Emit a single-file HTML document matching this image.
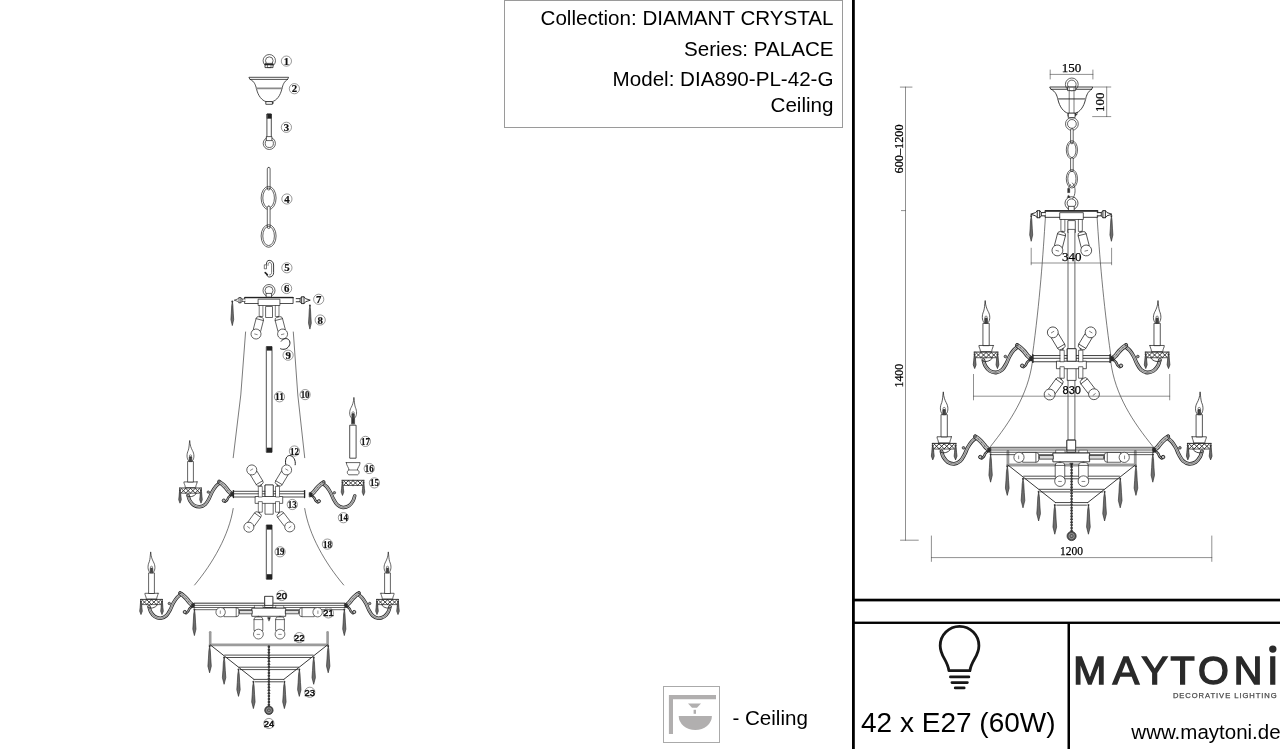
<!DOCTYPE html>
<html lang="en"><head><meta charset="utf-8"><title>DIA890-PL-42-G</title>
<style>
html,body{margin:0;padding:0;background:#fff;}
body{width:1280px;height:749px;position:relative;overflow:hidden;font-family:"Liberation Sans",sans-serif;color:#000;}
.abs{position:absolute;}
.info{left:504px;top:-0.5px;width:337px;height:126px;border:1px solid #9a9a9a;box-sizing:content-box;}
.info div{position:absolute;right:8.5px;white-space:nowrap;font-size:20.6px;line-height:24px;}
.vl{background:#000;}
.lbl{font-size:20.6px;line-height:24px;white-space:nowrap;}
svg{position:absolute;left:0;top:0;overflow:visible;}
circle,ellipse{stroke-linecap:butt;}
#w{position:absolute;left:0;top:0;width:1280px;height:749px;will-change:transform;}
</style></head><body><div id="w">
<div class="abs info">
<div style="top:5.3px">Collection: DIAMANT CRYSTAL</div>
<div style="top:36px">Series: PALACE</div>
<div style="top:66px">Model: DIA890-PL-42-G</div>
<div style="top:92.6px">Ceiling</div>
</div>
<svg width="1280" height="749" viewBox="0 0 1280 749"><g fill="#000">
<rect x="852" y="0" width="2.8" height="749"/>
<rect x="852" y="598.7" width="428" height="2.7"/>
<rect x="852" y="621.6" width="428" height="2.35"/>
<rect x="1067.5" y="622" width="2.5" height="127"/>
</g></svg>
<div class="abs" style="left:861px;top:707px;font-size:28px;line-height:32px;white-space:nowrap">42 x E27 (60W)</div>
<div class="abs" style="right:-0.6px;top:720px;font-size:20.5px;line-height:24px;white-space:nowrap;width:auto" id="url">www.maytoni.de</div>
<div class="abs lbl" style="left:732.4px;top:706px">- Ceiling</div>
<div class="abs" style="left:663px;top:686px;width:55px;height:55px;border:1px solid #aaa"></div>
<svg width="1280" height="749" viewBox="0 0 1280 749">
<g fill="#b1afaf">
<path d="M668.9 695.1H716v4.1H673v34.7h-4.1z"/>
<path d="M688 703.5h13l-4 4.3h-5z"/>
<rect x="693.6" y="709.8" width="2.4" height="4"/>
<path d="M678.7 716h33.2a16.6 14 0 0 1 -33.2 0z"/>
</g>
</svg>
<svg width="1280" height="749" viewBox="0 0 1280 749">
<g fill="none" stroke="#161616" stroke-width="2.8" stroke-linecap="round" stroke-linejoin="round">
<path d="M948.9 670.7 C947.5 659.5 940.2 656.5 940.2 645.75 a19.35 19.35 0 0 1 38.7 0 C978.9 656.5 971.6 659.5 969.9 670.7 z"/>
<path d="M950.4 676.9h18.5M951.9 682.6h15.5M955.2 687.9h9" stroke-width="2.7"/>
</g>
<g fill="#2a2a2a" font-family="'Liberation Sans',sans-serif">
<text x="1073.2 1112.7 1141.4 1170.4 1198.0 1233.8 1267.3" y="684.3" font-size="39.6" stroke="#2a2a2a" stroke-width="1.5" stroke-linejoin="miter">MAYTONI</text>
<circle cx="1272.8" cy="649.1" r="3.7"/>
<text x="1172.9" y="698.3" font-size="7.6" textLength="103.8" lengthAdjust="spacing" fill="#4a4a4a" stroke="#4a4a4a" stroke-width="0.25">DECORATIVE LIGHTING</text>
</g>
</svg>
<svg width="1280" height="749" viewBox="0 0 1280 749" fill="none" stroke="#222" stroke-width="0.7" stroke-linecap="round" stroke-linejoin="round">
<circle cx="269.3" cy="60.7" r="6.2"/><circle cx="269.3" cy="60.7" r="3.8"/>
<rect x="265.4" y="63.4" width="7.6" height="4.2" fill="#fff" stroke-width="0.8"/>
<path d="M 265.4 64.6 L 273 64.6" stroke-width="1.2"/>
<path d="M 267.4 64.6 L 267.4 67.6 L 271 67.6 L 271 64.6" stroke-width="0.6"/>
<circle cx="286.4" cy="61.1" r="5.1" stroke="#555" stroke-width="0.6" stroke-linecap="butt"/><text x="286.4" y="64.6" text-anchor="middle" font-family="'Liberation Serif',serif" font-weight="bold" font-size="10.8" fill="#111" stroke="#111" stroke-width="0.2">1</text>
<path d="M249.3 77.3 L288.6 77.3 L287.6 79.4 L250.3 79.4 Z" stroke-width="0.8"/><path d="M250.3 79.4 C254.5 81.5 255.5 85 256.4 88.4 C258 96 262 100.5 266 101.6 L272.4 101.6 C276.4 100.5 280.4 96 282 88.4 C282.9 85 283.9 81.5 287.6 79.4" stroke-width="0.8"/><path d="M 256.6 88.3 L 281.8 88.3" stroke-width="1.7" stroke="#8a8a8a"/><rect x="266.2" y="101.6" width="6.2" height="2.7" fill="#fff" stroke-width="0.8"/><path d="M272.4 102.4 L273.8 102.9 L272.4 103.6" stroke-width="0.6"/>
<circle cx="294.4" cy="88.7" r="5.1" stroke="#555" stroke-width="0.6" stroke-linecap="butt"/><text x="294.4" y="92.2" text-anchor="middle" font-family="'Liberation Serif',serif" font-weight="bold" font-size="10.8" fill="#111" stroke="#111" stroke-width="0.2">2</text>
<rect x="267.3" y="114" width="4" height="23.6" fill="#fff" stroke-width="0.8"/>
<rect x="267.3" y="114" width="4" height="4.4" fill="#222" stroke-width="0.5"/>
<circle cx="269.3" cy="143.4" r="6.1"/><circle cx="269.3" cy="143.4" r="4.1"/>
<rect x="266.7" y="136.6" width="5.2" height="4" fill="#fff" stroke-width="0.7"/>
<circle cx="286.4" cy="127.3" r="5.1" stroke="#555" stroke-width="0.6" stroke-linecap="butt"/><text x="286.4" y="130.8" text-anchor="middle" font-family="'Liberation Serif',serif" font-weight="bold" font-size="10.8" fill="#111" stroke="#111" stroke-width="0.2">3</text>
<rect x="267.3" y="167.4" width="2.8" height="22.6" rx="1.4" fill="#fff"/>
<ellipse cx="268.6" cy="198" rx="7.5" ry="11.6"/><ellipse cx="268.6" cy="198" rx="5.8" ry="9.9"/>
<rect x="267.3" y="206" width="2.8" height="22.5" rx="1.4" fill="#fff"/>
<ellipse cx="268.6" cy="236" rx="7.5" ry="11.3"/><ellipse cx="268.6" cy="236" rx="5.8" ry="9.6"/>
<circle cx="286.9" cy="199" r="5.1" stroke="#555" stroke-width="0.6" stroke-linecap="butt"/><text x="286.9" y="202.5" text-anchor="middle" font-family="'Liberation Serif',serif" font-weight="bold" font-size="10.8" fill="#111" stroke="#111" stroke-width="0.2">4</text>
<path d="M266.4 264.4 C266.4 261.6 267.4 260.4 269.2 260.4 C271.6 260.4 273.6 262 273.6 265 L273.6 272.6 C273.6 275.4 271.8 277 269.4 277 C268 277 266.8 276 266.6 274.2" stroke-width="0.9"/>
<path d="M268 265.4 C268 263.4 268.6 262.4 269.6 262.4 C270.8 262.4 271.6 263.6 271.6 265.2 L271.6 272.4 C271.6 274 270.8 275 269.6 275" stroke-width="0.6"/>
<rect x="264.7" y="264.8" width="1.8" height="4" fill="#fff" stroke-width="0.6"/>
<path d="M265.2 272.6 L267.4 274.8" stroke-width="1.6" stroke="#222"/>
<circle cx="286.9" cy="267.8" r="5.1" stroke="#555" stroke-width="0.6" stroke-linecap="butt"/><text x="286.9" y="271.3" text-anchor="middle" font-family="'Liberation Serif',serif" font-weight="bold" font-size="10.8" fill="#111" stroke="#111" stroke-width="0.2">5</text>
<circle cx="269" cy="290.5" r="6"/><circle cx="269" cy="290.5" r="4"/><rect x="266.5" y="293.4" width="5" height="3.8" fill="#fff" stroke-width="0.7"/><rect x="245" y="297.3" width="48.1" height="6.2" fill="#fff" stroke-width="0.8"/><path d="M 245 297.7 L 293.1 297.7" stroke-width="1.3" stroke="#222"/><rect x="258.5" y="299.2" width="21.4" height="6.3" fill="#fff" stroke-width="0.7"/><rect x="259.6" y="305.5" width="3.3" height="11" fill="#fff" stroke-width="0.6"/><rect x="275.7" y="305.5" width="3.3" height="11" fill="#fff" stroke-width="0.6"/><rect x="266" y="306.5" width="6.5" height="11" fill="#fff" stroke-width="0.7"/><g transform="translate(260.6 316.3) rotate(14.5) scale(1)" stroke-width="0.65"><circle cx="0" cy="0.6" r="1" fill="#555" stroke="none"/><path d="M -3.8 14.3 L -3.8 3.5 Q -3.8 0.8 -1.6 0.8 L 1.6 0.8 Q 3.8 0.8 3.8 3.5 L 3.8 14.3 Z" fill="#fff"/><path d="M -3.8 3.4 L 3.8 3.4"/><circle cx="0" cy="18.3" r="5" fill="#fff"/><path d="M -1.3 18.6 L 1.3 18.6" stroke-width="0.5"/></g><g transform="translate(278 316.3) rotate(-14.5) scale(1)" stroke-width="0.65"><circle cx="0" cy="0.6" r="1" fill="#555" stroke="none"/><path d="M -3.8 14.3 L -3.8 3.5 Q -3.8 0.8 -1.6 0.8 L 1.6 0.8 Q 3.8 0.8 3.8 3.5 L 3.8 14.3 Z" fill="#fff"/><path d="M -3.8 3.4 L 3.8 3.4"/><circle cx="0" cy="18.3" r="5" fill="#fff"/><path d="M -1.3 18.6 L 1.3 18.6" stroke-width="0.5"/></g>
<circle cx="286.6" cy="288.5" r="5.1" stroke="#555" stroke-width="0.6" stroke-linecap="butt"/><text x="286.6" y="292" text-anchor="middle" font-family="'Liberation Serif',serif" font-weight="bold" font-size="10.8" fill="#111" stroke="#111" stroke-width="0.2">6</text>
<g transform="translate(245 300.2) scale(-1 1)"><path d="M0 -1.2 L3 -1.2 L3 1.2 L0 1.2 M3 -1.2 L4.2 -2.6 L6 -2.6 L7.2 -1.2 L10.8 0 L7.2 1.2 L6 2.6 L4.2 2.6 L3 1.2 M4.2 -2.6 L4.2 2.6 M6 -2.6 L6 2.6" fill="#fff"/></g>
<circle cx="232.3" cy="301.6" r="1" fill="#444" stroke="none"/><path d="M 232.3 302.1 L 231.712 305.6 L 231.32 313.1 L 230.9 319.6 L 232.3 325.6 L 233.7 319.6 L 233.28 313.1 L 232.888 305.6 Z" fill="#6e6e6e" stroke="#222" stroke-width="0.6"/>
<g transform="translate(296.2 300.2) scale(1.3 1.3)"><path d="M0 -1.2 L3 -1.2 L3 1.2 L0 1.2 M3 -1.2 L4.2 -2.6 L6 -2.6 L7.2 -1.2 L10.8 0 L7.2 1.2 L6 2.6 L4.2 2.6 L3 1.2 M4.2 -2.6 L4.2 2.6 M6 -2.6 L6 2.6" fill="#fff"/></g>
<circle cx="318.7" cy="299.3" r="5.1" stroke="#555" stroke-width="0.6" stroke-linecap="butt"/><text x="318.7" y="302.8" text-anchor="middle" font-family="'Liberation Serif',serif" font-weight="bold" font-size="10.8" fill="#111" stroke="#111" stroke-width="0.2">7</text>
<circle cx="309.9" cy="305.6" r="1" fill="#444" stroke="none"/><path d="M 309.9 306.1 L 309.312 309.5 L 308.92 316.85 L 308.5 323.22 L 309.9 329.1 L 311.3 323.22 L 310.88 316.85 L 310.488 309.5 Z" fill="#6e6e6e" stroke="#222" stroke-width="0.6"/>
<circle cx="320.2" cy="320" r="5.1" stroke="#555" stroke-width="0.6" stroke-linecap="butt"/><text x="320.2" y="323.5" text-anchor="middle" font-family="'Liberation Serif',serif" font-weight="bold" font-size="10.8" fill="#111" stroke="#111" stroke-width="0.2">8</text>
<path d="M281.2 341.2 C283 338.4 286.6 337.8 288.6 339.6 C291.4 342.2 289.6 347.6 285.4 349 C283.6 349.5 281.8 349.4 280.6 348.8" stroke-width="1"/>
<circle cx="288.1" cy="355.2" r="5.1" stroke="#555" stroke-width="0.6" stroke-linecap="butt"/><text x="288.1" y="358.7" text-anchor="middle" font-family="'Liberation Serif',serif" font-weight="bold" font-size="10.8" fill="#111" stroke="#111" stroke-width="0.2">9</text>
<path d="M245.6 332 Q242.2 395 233.2 457.7" stroke-width="0.6"/>
<path d="M293.3 332 Q296.6 395 304.7 457.7" stroke-width="0.6"/>
<circle cx="305.1" cy="394.6" r="5.1" stroke="#555" stroke-width="0.6" stroke-linecap="butt"/><text x="305.1" y="398.1" text-anchor="middle" font-family="'Liberation Serif',serif" font-weight="bold" font-size="10.4" fill="#111" stroke="#111" stroke-width="0.2" textLength="8.9" lengthAdjust="spacingAndGlyphs">10</text>
<rect x="266.7" y="346.6" width="5.3" height="105.7" fill="#fff" stroke-width="0.8"/><rect x="266.7" y="346.6" width="5.3" height="4" fill="#222" stroke="none"/><rect x="266.7" y="447.7" width="5.3" height="4.6" fill="#222" stroke="none"/>
<circle cx="279.5" cy="396.8" r="5.1" stroke="#555" stroke-width="0.6" stroke-linecap="butt"/><text x="279.5" y="400.3" text-anchor="middle" font-family="'Liberation Serif',serif" font-weight="bold" font-size="10.4" fill="#111" stroke="#111" stroke-width="0.2" textLength="8.9" lengthAdjust="spacingAndGlyphs">11</text>
<path d="M285.8 464.4 C284.6 459 286.8 455.4 289.8 455.5 C293.2 455.8 296 460 295.2 464.8" stroke-width="1"/>
<circle cx="294.4" cy="451" r="5.1" stroke="#555" stroke-width="0.6" stroke-linecap="butt"/><text x="294.4" y="454.5" text-anchor="middle" font-family="'Liberation Serif',serif" font-weight="bold" font-size="10.4" fill="#111" stroke="#111" stroke-width="0.2" textLength="8.9" lengthAdjust="spacingAndGlyphs">12</text>
<rect x="265.4" y="485" width="7.8" height="29.2" fill="#fff" stroke-width="0.7"/><path d="M 233.6 491.3 L 304.4 491.3" stroke-width="0.8"/><path d="M 233.6 493.8 L 304.4 493.8" stroke-width="0.8"/><path d="M 233.6 497 L 304.4 497" stroke-width="0.8"/><path d="M 233.4 490.6 L 233.4 497.6" stroke-width="1.3" stroke="#222"/><path d="M 304.6 490.6 L 304.6 497.6" stroke-width="1.3" stroke="#222"/><rect x="255.5" y="496.5" width="27.2" height="6.9" fill="#fff" stroke-width="0.7"/><rect x="265.4" y="485" width="7.8" height="11.5" fill="#fff" stroke-width="0.7"/><rect x="258.7" y="486.4" width="3.6" height="10.6" fill="#fff" stroke-width="0.6"/><rect x="258.7" y="501.6" width="3.6" height="10.6" fill="#fff" stroke-width="0.6"/><rect x="275.9" y="486.4" width="3.6" height="10.6" fill="#fff" stroke-width="0.6"/><rect x="275.9" y="501.6" width="3.6" height="10.6" fill="#fff" stroke-width="0.6"/><g transform="translate(261.2 485.6) rotate(149) scale(1)" stroke-width="0.65"><circle cx="0" cy="0.6" r="1" fill="#555" stroke="none"/><path d="M -3.8 14.3 L -3.8 3.5 Q -3.8 0.8 -1.6 0.8 L 1.6 0.8 Q 3.8 0.8 3.8 3.5 L 3.8 14.3 Z" fill="#fff"/><path d="M -3.8 3.4 L 3.8 3.4"/><circle cx="0" cy="18.3" r="5" fill="#fff"/><path d="M -1.3 18.6 L 1.3 18.6" stroke-width="0.5"/></g><g transform="translate(277.2 485.6) rotate(-149) scale(1)" stroke-width="0.65"><circle cx="0" cy="0.6" r="1" fill="#555" stroke="none"/><path d="M -3.8 14.3 L -3.8 3.5 Q -3.8 0.8 -1.6 0.8 L 1.6 0.8 Q 3.8 0.8 3.8 3.5 L 3.8 14.3 Z" fill="#fff"/><path d="M -3.8 3.4 L 3.8 3.4"/><circle cx="0" cy="18.3" r="5" fill="#fff"/><path d="M -1.3 18.6 L 1.3 18.6" stroke-width="0.5"/></g><g transform="translate(259.6 512.4) rotate(36) scale(1)" stroke-width="0.65"><circle cx="0" cy="0.6" r="1" fill="#555" stroke="none"/><path d="M -3.8 14.3 L -3.8 3.5 Q -3.8 0.8 -1.6 0.8 L 1.6 0.8 Q 3.8 0.8 3.8 3.5 L 3.8 14.3 Z" fill="#fff"/><path d="M -3.8 3.4 L 3.8 3.4"/><circle cx="0" cy="18.3" r="5" fill="#fff"/><path d="M -1.3 18.6 L 1.3 18.6" stroke-width="0.5"/></g><g transform="translate(278.6 512.4) rotate(-37.5) scale(1)" stroke-width="0.65"><circle cx="0" cy="0.6" r="1" fill="#555" stroke="none"/><path d="M -3.8 14.3 L -3.8 3.5 Q -3.8 0.8 -1.6 0.8 L 1.6 0.8 Q 3.8 0.8 3.8 3.5 L 3.8 14.3 Z" fill="#fff"/><path d="M -3.8 3.4 L 3.8 3.4"/><circle cx="0" cy="18.3" r="5" fill="#fff"/><path d="M -1.3 18.6 L 1.3 18.6" stroke-width="0.5"/></g>
<circle cx="292.3" cy="504.5" r="5.1" stroke="#555" stroke-width="0.6" stroke-linecap="butt"/><text x="292.3" y="508" text-anchor="middle" font-family="'Liberation Serif',serif" font-weight="bold" font-size="10.4" fill="#111" stroke="#111" stroke-width="0.2" textLength="8.9" lengthAdjust="spacingAndGlyphs">13</text>
<g transform="translate(233.2 494) scale(-1 1)" stroke-width="0.7"><path d="M 2.6 1.2 C 2.967 1.567 4.2 2.567 4.8 3.4 C 5.4 4.233 5.633 5.467 6.2 6.2 C 6.767 6.933 7.867 7.533 8.2 7.8" stroke="#2a2a2a" stroke-width="2.4"/><path d="M 2.6 1.2 C 2.967 1.567 4.2 2.567 4.8 3.4 C 5.4 4.233 5.633 5.467 6.2 6.2 C 6.767 6.933 7.867 7.533 8.2 7.8" stroke="#c4c4c4" stroke-width="0.9"/><circle cx="9.4" cy="6.6" r="1.6" fill="#bbb" stroke="#2a2a2a" stroke-width="0.9"/><path d="M 13.2 -11.2 C 13.9 -10.6 16.067 -9.167 17.4 -7.6 C 18.733 -6.033 20.117 -3.767 21.2 -1.8 C 22.283 0.167 22.8 2.2 23.9 4.2 C 25 6.2 26.217 8.767 27.8 10.2 C 29.383 11.633 31.467 12.633 33.4 12.8 C 35.333 12.967 37.733 12.233 39.4 11.2 C 41.067 10.167 42.433 8.233 43.4 6.6 C 44.367 4.967 44.9 2.267 45.2 1.4" stroke="#2a2a2a" stroke-width="3.5"/><path d="M 13.2 -11.2 C 13.9 -10.6 16.067 -9.167 17.4 -7.6 C 18.733 -6.033 20.117 -3.767 21.2 -1.8 C 22.283 0.167 22.8 2.2 23.9 4.2 C 25 6.2 26.217 8.767 27.8 10.2 C 29.383 11.633 31.467 12.633 33.4 12.8 C 35.333 12.967 37.733 12.233 39.4 11.2 C 41.067 10.167 42.433 8.233 43.4 6.6 C 44.367 4.967 44.9 2.267 45.2 1.4" stroke="#c4c4c4" stroke-width="2"/><path d="M 13.2 -11.2 C 13.9 -10.6 16.067 -9.167 17.4 -7.6 C 18.733 -6.033 20.117 -3.767 21.2 -1.8 C 22.283 0.167 22.8 2.2 23.9 4.2 C 25 6.2 26.217 8.767 27.8 10.2 C 29.383 11.633 31.467 12.633 33.4 12.8 C 35.333 12.967 37.733 12.233 39.4 11.2 C 41.067 10.167 42.433 8.233 43.4 6.6 C 44.367 4.967 44.9 2.267 45.2 1.4" stroke="#555" stroke-width="0.5"/><path d="M 1.6 -0.2 C 2.067 -0.6 3.433 -1.567 4.4 -2.6 C 5.367 -3.633 6.367 -5.233 7.4 -6.4 C 8.433 -7.567 9.533 -8.667 10.6 -9.6 C 11.667 -10.533 13.267 -11.6 13.8 -12" stroke="#2a2a2a" stroke-width="4.3"/><path d="M 1.6 -0.2 C 2.067 -0.6 3.433 -1.567 4.4 -2.6 C 5.367 -3.633 6.367 -5.233 7.4 -6.4 C 8.433 -7.567 9.533 -8.667 10.6 -9.6 C 11.667 -10.533 13.267 -11.6 13.8 -12" stroke="#c4c4c4" stroke-width="2.8"/><path d="M 1.6 -0.2 C 2.067 -0.6 3.433 -1.567 4.4 -2.6 C 5.367 -3.633 6.367 -5.233 7.4 -6.4 C 8.433 -7.567 9.533 -8.667 10.6 -9.6 C 11.667 -10.533 13.267 -11.6 13.8 -12" stroke="#555" stroke-width="0.5"/><circle cx="5.4" cy="-3.6" r="0.45" fill="#333" stroke="none"/><circle cx="8.2" cy="-7" r="0.45" fill="#333" stroke="none"/><circle cx="11.2" cy="-10" r="0.45" fill="#333" stroke="none"/><circle cx="14.2" cy="-12.8" r="1.2" fill="#999" stroke="#2a2a2a" stroke-width="0.7"/><circle cx="24.9" cy="-1.9" r="1.2" fill="#999" stroke="#2a2a2a" stroke-width="0.7"/><path d="M0 -2 L2.6 -1.6 L3 1.8 L0 2.4 Z" fill="#2a2a2a" stroke="#2a2a2a" stroke-width="0.5"/><path d="M 31.8 -6 L 53.6 -6" stroke-width="0.9"/><path d="M 31.8 -6 L 32.4 1.5 M 53.6 -6 L 53 1.5 M 33.8 -0.8 L 51.6 -0.8" stroke-width="0.7"/><path d="M 33.3 -5.6 L 38 -1 M 38 -5.6 L 33.3 -1 M 38 -5.6 L 42.7 -1 M 42.7 -5.6 L 38 -1 M 42.7 -5.6 L 47.4 -1 M 47.4 -5.6 L 42.7 -1 M 47.4 -5.6 L 52.1 -1 M 52.1 -5.6 L 47.4 -1" stroke-width="0.85"/><path d="M 36.7 -0.8 C 38.7 3 44.7 3.6 46.2 1.8" stroke-width="0.8"/><circle cx="32.2" cy="-4" r="1" fill="#444" stroke="none"/><path d="M 32.2 -3.5 L 31.654 -2.16 L 31.29 2.1 L 30.9 5.792 L 32.2 9.2 L 33.5 5.792 L 33.11 2.1 L 32.746 -2.16 Z" fill="#6e6e6e" stroke="#222" stroke-width="0.6"/><circle cx="53.2" cy="-4" r="1" fill="#444" stroke="none"/><path d="M 53.2 -3.5 L 52.654 -2.16 L 52.29 2.1 L 51.9 5.792 L 53.2 9.2 L 54.5 5.792 L 54.11 2.1 L 53.746 -2.16 Z" fill="#6e6e6e" stroke="#222" stroke-width="0.6"/><path d="M 36.1 -12.1 L 49.3 -12.1 C 49.3 -9.9 48.1 -9.5 47.9 -6.5 L 37.5 -6.5 C 37.3 -9.5 36.1 -9.9 36.1 -12.1 Z" fill="#fff" stroke-width="0.7"/><path d="M 39.8 -12.3 L 39.8 -32.5 L 45.6 -32.5 L 45.6 -12.3 Z" fill="#fff" stroke-width="0.7"/><path d="M 41.4 -32.7 L 41.4 -37.1 L 44 -37.1 L 44 -32.7 Z" fill="#444" stroke-width="0.5"/><circle cx="42.7" cy="-38.1" r="1.1" stroke-width="0.5"/><path d="M 40.7 -33.3 C 38.6 -35.5 38.9 -40.3 40.8 -43.5 C 42.1 -46.1 43.2 -48.5 43.5 -53.5 C 44.1 -49.1 44 -46.7 44.9 -43.7 C 46.7 -39.9 46.6 -35.5 44.7 -33.3" stroke-width="0.7"/></g>
<g transform="translate(309.5 494.6)" stroke-width="0.7"><path d="M 2.6 1.2 C 2.967 1.567 4.2 2.567 4.8 3.4 C 5.4 4.233 5.633 5.467 6.2 6.2 C 6.767 6.933 7.867 7.533 8.2 7.8" stroke="#2a2a2a" stroke-width="2.4"/><path d="M 2.6 1.2 C 2.967 1.567 4.2 2.567 4.8 3.4 C 5.4 4.233 5.633 5.467 6.2 6.2 C 6.767 6.933 7.867 7.533 8.2 7.8" stroke="#c4c4c4" stroke-width="0.9"/><circle cx="9.4" cy="6.6" r="1.6" fill="#bbb" stroke="#2a2a2a" stroke-width="0.9"/><path d="M 13.2 -11.2 C 13.9 -10.6 16.067 -9.167 17.4 -7.6 C 18.733 -6.033 20.117 -3.767 21.2 -1.8 C 22.283 0.167 22.8 2.2 23.9 4.2 C 25 6.2 26.217 8.767 27.8 10.2 C 29.383 11.633 31.467 12.633 33.4 12.8 C 35.333 12.967 37.733 12.233 39.4 11.2 C 41.067 10.167 42.433 8.233 43.4 6.6 C 44.367 4.967 44.9 2.267 45.2 1.4" stroke="#2a2a2a" stroke-width="3.5"/><path d="M 13.2 -11.2 C 13.9 -10.6 16.067 -9.167 17.4 -7.6 C 18.733 -6.033 20.117 -3.767 21.2 -1.8 C 22.283 0.167 22.8 2.2 23.9 4.2 C 25 6.2 26.217 8.767 27.8 10.2 C 29.383 11.633 31.467 12.633 33.4 12.8 C 35.333 12.967 37.733 12.233 39.4 11.2 C 41.067 10.167 42.433 8.233 43.4 6.6 C 44.367 4.967 44.9 2.267 45.2 1.4" stroke="#c4c4c4" stroke-width="2"/><path d="M 13.2 -11.2 C 13.9 -10.6 16.067 -9.167 17.4 -7.6 C 18.733 -6.033 20.117 -3.767 21.2 -1.8 C 22.283 0.167 22.8 2.2 23.9 4.2 C 25 6.2 26.217 8.767 27.8 10.2 C 29.383 11.633 31.467 12.633 33.4 12.8 C 35.333 12.967 37.733 12.233 39.4 11.2 C 41.067 10.167 42.433 8.233 43.4 6.6 C 44.367 4.967 44.9 2.267 45.2 1.4" stroke="#555" stroke-width="0.5"/><path d="M 1.6 -0.2 C 2.067 -0.6 3.433 -1.567 4.4 -2.6 C 5.367 -3.633 6.367 -5.233 7.4 -6.4 C 8.433 -7.567 9.533 -8.667 10.6 -9.6 C 11.667 -10.533 13.267 -11.6 13.8 -12" stroke="#2a2a2a" stroke-width="4.3"/><path d="M 1.6 -0.2 C 2.067 -0.6 3.433 -1.567 4.4 -2.6 C 5.367 -3.633 6.367 -5.233 7.4 -6.4 C 8.433 -7.567 9.533 -8.667 10.6 -9.6 C 11.667 -10.533 13.267 -11.6 13.8 -12" stroke="#c4c4c4" stroke-width="2.8"/><path d="M 1.6 -0.2 C 2.067 -0.6 3.433 -1.567 4.4 -2.6 C 5.367 -3.633 6.367 -5.233 7.4 -6.4 C 8.433 -7.567 9.533 -8.667 10.6 -9.6 C 11.667 -10.533 13.267 -11.6 13.8 -12" stroke="#555" stroke-width="0.5"/><circle cx="5.4" cy="-3.6" r="0.45" fill="#333" stroke="none"/><circle cx="8.2" cy="-7" r="0.45" fill="#333" stroke="none"/><circle cx="11.2" cy="-10" r="0.45" fill="#333" stroke="none"/><circle cx="14.2" cy="-12.8" r="1.2" fill="#999" stroke="#2a2a2a" stroke-width="0.7"/><circle cx="24.9" cy="-1.9" r="1.2" fill="#999" stroke="#2a2a2a" stroke-width="0.7"/><path d="M0 -2 L2.6 -1.6 L3 1.8 L0 2.4 Z" fill="#2a2a2a" stroke="#2a2a2a" stroke-width="0.5"/></g>
<circle cx="343.4" cy="517.7" r="5.1" stroke="#555" stroke-width="0.6" stroke-linecap="butt"/><text x="343.4" y="521.2" text-anchor="middle" font-family="'Liberation Serif',serif" font-weight="bold" font-size="10.4" fill="#111" stroke="#111" stroke-width="0.2" textLength="8.9" lengthAdjust="spacingAndGlyphs">14</text>
<g transform="translate(353 486.3)" stroke-width="0.7"><path d="M -10.9 -6 L 10.9 -6" stroke-width="0.9"/><path d="M -10.9 -6 L -10.3 1.5 M 10.9 -6 L 10.3 1.5 M -8.9 -0.8 L 8.9 -0.8" stroke-width="0.7"/><path d="M -9.4 -5.6 L -4.7 -1 M -4.7 -5.6 L -9.4 -1 M -4.7 -5.6 L 0 -1 M 0 -5.6 L -4.7 -1 M 0 -5.6 L 4.7 -1 M 4.7 -5.6 L 0 -1 M 4.7 -5.6 L 9.4 -1 M 9.4 -5.6 L 4.7 -1" stroke-width="0.85"/><path visibility="hidden" d="M -6 -0.8 C -4 3 2 3.6 3.5 1.8" stroke-width="0.8"/><circle cx="-10.5" cy="-4" r="1" fill="#444" stroke="none"/><path d="M -10.5 -3.5 L -11.046 -2.16 L -11.41 2.1 L -11.8 5.792 L -10.5 9.2 L -9.2 5.792 L -9.59 2.1 L -9.954 -2.16 Z" fill="#6e6e6e" stroke="#222" stroke-width="0.6"/><circle cx="10.5" cy="-4" r="1" fill="#444" stroke="none"/><path d="M 10.5 -3.5 L 9.954 -2.16 L 9.59 2.1 L 9.2 5.792 L 10.5 9.2 L 11.8 5.792 L 11.41 2.1 L 11.046 -2.16 Z" fill="#6e6e6e" stroke="#222" stroke-width="0.6"/></g>
<circle cx="374.4" cy="482.9" r="5.1" stroke="#555" stroke-width="0.6" stroke-linecap="butt"/><text x="374.4" y="486.4" text-anchor="middle" font-family="'Liberation Serif',serif" font-weight="bold" font-size="10.4" fill="#111" stroke="#111" stroke-width="0.2" textLength="8.9" lengthAdjust="spacingAndGlyphs">15</text>
<path d="M346.3 462.6 L360.1 462.6 C359.9 466 357.6 467.4 357.4 470 C359.4 470.4 359.8 473.6 357.6 474.8 L348.8 474.8 C346.6 473.6 347 470.4 349 470 C348.8 467.4 346.5 466 346.3 462.6 Z" stroke-width="0.7"/>
<path d="M 349 470 L 357.4 470" stroke-width="0.6"/>
<circle cx="369.2" cy="468.5" r="5.1" stroke="#555" stroke-width="0.6" stroke-linecap="butt"/><text x="369.2" y="472" text-anchor="middle" font-family="'Liberation Serif',serif" font-weight="bold" font-size="10.4" fill="#111" stroke="#111" stroke-width="0.2" textLength="8.9" lengthAdjust="spacingAndGlyphs">16</text>
<rect x="350.1" y="425.2" width="6" height="33" fill="#fff" stroke-width="0.8"/>
<path d="M 351.6 423.8 L 351.6 418.4 L 354.6 418.4 L 354.6 423.8 Z" fill="#333" stroke-width="0.5"/><path d="M 351.8 418.2 L 351.8 413.8 L 354.4 413.8 L 354.4 418.2 Z" fill="#444" stroke-width="0.5"/><circle cx="353.1" cy="412.8" r="1.1" stroke-width="0.5"/><path d="M 351.1 417.6 C 349 415.4 349.3 410.6 351.2 407.4 C 352.5 404.8 353.6 402.4 353.9 397.4 C 354.5 401.8 354.4 404.2 355.3 407.2 C 357.1 411 357 415.4 355.1 417.6" stroke-width="0.7"/>
<circle cx="365.4" cy="441.4" r="5.1" stroke="#555" stroke-width="0.6" stroke-linecap="butt"/><text x="365.4" y="444.9" text-anchor="middle" font-family="'Liberation Serif',serif" font-weight="bold" font-size="10.4" fill="#111" stroke="#111" stroke-width="0.2" textLength="8.9" lengthAdjust="spacingAndGlyphs">17</text>
<path d="M233.2 508.5 C229 535 213 563 194.6 585" stroke-width="0.6"/>
<path d="M304.7 508.5 C309 535 325 563 343.7 585" stroke-width="0.6"/>
<circle cx="327.4" cy="544.1" r="5.1" stroke="#555" stroke-width="0.6" stroke-linecap="butt"/><text x="327.4" y="547.6" text-anchor="middle" font-family="'Liberation Serif',serif" font-weight="bold" font-size="10.4" fill="#111" stroke="#111" stroke-width="0.2" textLength="8.9" lengthAdjust="spacingAndGlyphs">18</text>
<rect x="266.7" y="525" width="5.3" height="54.2" fill="#fff" stroke-width="0.8"/><rect x="266.7" y="525" width="5.3" height="4.6" fill="#222" stroke="none"/><rect x="266.7" y="574.2" width="5.3" height="5" fill="#222" stroke="none"/>
<circle cx="280.1" cy="551.8" r="5.1" stroke="#555" stroke-width="0.6" stroke-linecap="butt"/><text x="280.1" y="555.3" text-anchor="middle" font-family="'Liberation Serif',serif" font-weight="bold" font-size="10.4" fill="#111" stroke="#111" stroke-width="0.2" textLength="8.9" lengthAdjust="spacingAndGlyphs">19</text>
<rect x="265.1" y="596.4" width="7.7" height="11.1" fill="#fff" stroke-width="0.7"/><path d="M 194.4 603.2 L 344.6 603.2" stroke-width="1.5" stroke="#777"/><path d="M 194.4 605.4 L 344.6 605.4" stroke-width="0.7"/><path d="M 194.4 607.5 L 344.6 607.5" stroke-width="0.7"/><path d="M 194.4 609.7 L 252.2 609.7" stroke-width="0.7"/><path d="M 285.7 609.7 L 344.6 609.7" stroke-width="0.7"/><rect x="265.1" y="596.4" width="7.7" height="9" fill="#fff" stroke-width="0.7"/><rect x="254.8" y="605.6" width="8.2" height="2.4" fill="#fff" stroke-width="0.5"/><rect x="276.1" y="605.6" width="7.6" height="2.4" fill="#fff" stroke-width="0.5"/><rect x="252.2" y="608.2" width="33.5" height="8.1" fill="#fff" stroke-width="0.8"/><rect x="239.5" y="610.5" width="12.7" height="3.3" fill="#ddd" stroke-width="0.7"/><rect x="285.7" y="610.5" width="13.2" height="3.3" fill="#ddd" stroke-width="0.7"/><g transform="translate(239.6 612.2) rotate(90) scale(1)" stroke-width="0.65"><circle cx="0" cy="0.6" r="1" fill="#555" stroke="none"/><path d="M -4.5 15.3 L -4.5 3.5 Q -4.5 0.8 -2.3 0.8 L 2.3 0.8 Q 4.5 0.8 4.5 3.5 L 4.5 15.3 Z" fill="#fff"/><path d="M -4.5 3.4 L 4.5 3.4"/><circle cx="0" cy="19" r="4.7" fill="#fff"/><path d="M -1.3 19.3 L 1.3 19.3" stroke-width="0.5"/></g><g transform="translate(298.6 612.2) rotate(-90) scale(1)" stroke-width="0.65"><circle cx="0" cy="0.6" r="1" fill="#555" stroke="none"/><path d="M -4.5 15.3 L -4.5 3.5 Q -4.5 0.8 -2.3 0.8 L 2.3 0.8 Q 4.5 0.8 4.5 3.5 L 4.5 15.3 Z" fill="#fff"/><path d="M -4.5 3.4 L 4.5 3.4"/><circle cx="0" cy="19" r="4.7" fill="#fff"/><path d="M -1.3 19.3 L 1.3 19.3" stroke-width="0.5"/></g><g transform="translate(258.4 616.2) rotate(0) scale(1)" stroke-width="0.65"><circle cx="0" cy="0.6" r="1" fill="#555" stroke="none"/><path d="M -4.4 14 L -4.4 3.5 Q -4.4 0.8 -2.2 0.8 L 2.2 0.8 Q 4.4 0.8 4.4 3.5 L 4.4 14 Z" fill="#fff"/><path d="M -4.4 3.4 L 4.4 3.4"/><circle cx="0" cy="17.9" r="4.9" fill="#fff"/><path d="M -1.3 18.2 L 1.3 18.2" stroke-width="0.5"/></g><g transform="translate(280 616.2) rotate(0) scale(1)" stroke-width="0.65"><circle cx="0" cy="0.6" r="1" fill="#555" stroke="none"/><path d="M -4.4 14 L -4.4 3.5 Q -4.4 0.8 -2.2 0.8 L 2.2 0.8 Q 4.4 0.8 4.4 3.5 L 4.4 14 Z" fill="#fff"/><path d="M -4.4 3.4 L 4.4 3.4"/><circle cx="0" cy="17.9" r="4.9" fill="#fff"/><path d="M -1.3 18.2 L 1.3 18.2" stroke-width="0.5"/></g><path d="M267.8 617.6 L270.4 617.6 L269.1 620.8 Z" stroke-width="0.5" fill="#222"/>
<circle cx="281.7" cy="595.5" r="5.1" stroke="#555" stroke-width="0.6" stroke-linecap="butt"/><text x="281.7" y="598.8" text-anchor="middle" font-family="'Liberation Sans',sans-serif" font-weight="normal" font-size="9.4" fill="#111" stroke="#111" stroke-width="0.5">20</text>
<circle cx="328.4" cy="612.9" r="5.1" stroke="#555" stroke-width="0.6" stroke-linecap="butt"/><text x="328.4" y="616.2" text-anchor="middle" font-family="'Liberation Sans',sans-serif" font-weight="normal" font-size="9.4" fill="#111" stroke="#111" stroke-width="0.5">21</text>
<circle cx="194.4" cy="609.6" r="1" fill="#444" stroke="none"/><path d="M 194.4 610.1 L 193.728 614 L 193.28 622.1 L 192.8 629.12 L 194.4 635.6 L 196 629.12 L 195.52 622.1 L 195.072 614 Z" fill="#6e6e6e" stroke="#222" stroke-width="0.6"/>
<circle cx="344.3" cy="609.6" r="1" fill="#444" stroke="none"/><path d="M 344.3 610.1 L 343.628 614 L 343.18 622.1 L 342.7 629.12 L 344.3 635.6 L 345.9 629.12 L 345.42 622.1 L 344.972 614 Z" fill="#6e6e6e" stroke="#222" stroke-width="0.6"/>
<g transform="translate(194.2 605.4) scale(-1 1)" stroke-width="0.7"><path d="M 2.6 1.2 C 2.967 1.567 4.2 2.567 4.8 3.4 C 5.4 4.233 5.633 5.467 6.2 6.2 C 6.767 6.933 7.867 7.533 8.2 7.8" stroke="#2a2a2a" stroke-width="2.4"/><path d="M 2.6 1.2 C 2.967 1.567 4.2 2.567 4.8 3.4 C 5.4 4.233 5.633 5.467 6.2 6.2 C 6.767 6.933 7.867 7.533 8.2 7.8" stroke="#c4c4c4" stroke-width="0.9"/><circle cx="9.4" cy="6.6" r="1.6" fill="#bbb" stroke="#2a2a2a" stroke-width="0.9"/><path d="M 13.2 -11.2 C 13.9 -10.6 16.067 -9.167 17.4 -7.6 C 18.733 -6.033 20.117 -3.767 21.2 -1.8 C 22.283 0.167 22.8 2.2 23.9 4.2 C 25 6.2 26.217 8.767 27.8 10.2 C 29.383 11.633 31.467 12.633 33.4 12.8 C 35.333 12.967 37.733 12.233 39.4 11.2 C 41.067 10.167 42.433 8.233 43.4 6.6 C 44.367 4.967 44.9 2.267 45.2 1.4" stroke="#2a2a2a" stroke-width="3.5"/><path d="M 13.2 -11.2 C 13.9 -10.6 16.067 -9.167 17.4 -7.6 C 18.733 -6.033 20.117 -3.767 21.2 -1.8 C 22.283 0.167 22.8 2.2 23.9 4.2 C 25 6.2 26.217 8.767 27.8 10.2 C 29.383 11.633 31.467 12.633 33.4 12.8 C 35.333 12.967 37.733 12.233 39.4 11.2 C 41.067 10.167 42.433 8.233 43.4 6.6 C 44.367 4.967 44.9 2.267 45.2 1.4" stroke="#c4c4c4" stroke-width="2"/><path d="M 13.2 -11.2 C 13.9 -10.6 16.067 -9.167 17.4 -7.6 C 18.733 -6.033 20.117 -3.767 21.2 -1.8 C 22.283 0.167 22.8 2.2 23.9 4.2 C 25 6.2 26.217 8.767 27.8 10.2 C 29.383 11.633 31.467 12.633 33.4 12.8 C 35.333 12.967 37.733 12.233 39.4 11.2 C 41.067 10.167 42.433 8.233 43.4 6.6 C 44.367 4.967 44.9 2.267 45.2 1.4" stroke="#555" stroke-width="0.5"/><path d="M 1.6 -0.2 C 2.067 -0.6 3.433 -1.567 4.4 -2.6 C 5.367 -3.633 6.367 -5.233 7.4 -6.4 C 8.433 -7.567 9.533 -8.667 10.6 -9.6 C 11.667 -10.533 13.267 -11.6 13.8 -12" stroke="#2a2a2a" stroke-width="4.3"/><path d="M 1.6 -0.2 C 2.067 -0.6 3.433 -1.567 4.4 -2.6 C 5.367 -3.633 6.367 -5.233 7.4 -6.4 C 8.433 -7.567 9.533 -8.667 10.6 -9.6 C 11.667 -10.533 13.267 -11.6 13.8 -12" stroke="#c4c4c4" stroke-width="2.8"/><path d="M 1.6 -0.2 C 2.067 -0.6 3.433 -1.567 4.4 -2.6 C 5.367 -3.633 6.367 -5.233 7.4 -6.4 C 8.433 -7.567 9.533 -8.667 10.6 -9.6 C 11.667 -10.533 13.267 -11.6 13.8 -12" stroke="#555" stroke-width="0.5"/><circle cx="5.4" cy="-3.6" r="0.45" fill="#333" stroke="none"/><circle cx="8.2" cy="-7" r="0.45" fill="#333" stroke="none"/><circle cx="11.2" cy="-10" r="0.45" fill="#333" stroke="none"/><circle cx="14.2" cy="-12.8" r="1.2" fill="#999" stroke="#2a2a2a" stroke-width="0.7"/><circle cx="24.9" cy="-1.9" r="1.2" fill="#999" stroke="#2a2a2a" stroke-width="0.7"/><path d="M0 -2 L2.6 -1.6 L3 1.8 L0 2.4 Z" fill="#2a2a2a" stroke="#2a2a2a" stroke-width="0.5"/><path d="M 31.8 -6 L 53.6 -6" stroke-width="0.9"/><path d="M 31.8 -6 L 32.4 1.5 M 53.6 -6 L 53 1.5 M 33.8 -0.8 L 51.6 -0.8" stroke-width="0.7"/><path d="M 33.3 -5.6 L 38 -1 M 38 -5.6 L 33.3 -1 M 38 -5.6 L 42.7 -1 M 42.7 -5.6 L 38 -1 M 42.7 -5.6 L 47.4 -1 M 47.4 -5.6 L 42.7 -1 M 47.4 -5.6 L 52.1 -1 M 52.1 -5.6 L 47.4 -1" stroke-width="0.85"/><path d="M 36.7 -0.8 C 38.7 3 44.7 3.6 46.2 1.8" stroke-width="0.8"/><circle cx="32.2" cy="-4" r="1" fill="#444" stroke="none"/><path d="M 32.2 -3.5 L 31.654 -2.16 L 31.29 2.1 L 30.9 5.792 L 32.2 9.2 L 33.5 5.792 L 33.11 2.1 L 32.746 -2.16 Z" fill="#6e6e6e" stroke="#222" stroke-width="0.6"/><circle cx="53.2" cy="-4" r="1" fill="#444" stroke="none"/><path d="M 53.2 -3.5 L 52.654 -2.16 L 52.29 2.1 L 51.9 5.792 L 53.2 9.2 L 54.5 5.792 L 54.11 2.1 L 53.746 -2.16 Z" fill="#6e6e6e" stroke="#222" stroke-width="0.6"/><path d="M 36.1 -12.1 L 49.3 -12.1 C 49.3 -9.9 48.1 -9.5 47.9 -6.5 L 37.5 -6.5 C 37.3 -9.5 36.1 -9.9 36.1 -12.1 Z" fill="#fff" stroke-width="0.7"/><path d="M 39.8 -12.3 L 39.8 -32.5 L 45.6 -32.5 L 45.6 -12.3 Z" fill="#fff" stroke-width="0.7"/><path d="M 41.4 -32.7 L 41.4 -37.1 L 44 -37.1 L 44 -32.7 Z" fill="#444" stroke-width="0.5"/><circle cx="42.7" cy="-38.1" r="1.1" stroke-width="0.5"/><path d="M 40.7 -33.3 C 38.6 -35.5 38.9 -40.3 40.8 -43.5 C 42.1 -46.1 43.2 -48.5 43.5 -53.5 C 44.1 -49.1 44 -46.7 44.9 -43.7 C 46.7 -39.9 46.6 -35.5 44.7 -33.3" stroke-width="0.7"/></g>
<g transform="translate(344.8 605.4) scale(1 1)" stroke-width="0.7"><path d="M 2.6 1.2 C 2.967 1.567 4.2 2.567 4.8 3.4 C 5.4 4.233 5.633 5.467 6.2 6.2 C 6.767 6.933 7.867 7.533 8.2 7.8" stroke="#2a2a2a" stroke-width="2.4"/><path d="M 2.6 1.2 C 2.967 1.567 4.2 2.567 4.8 3.4 C 5.4 4.233 5.633 5.467 6.2 6.2 C 6.767 6.933 7.867 7.533 8.2 7.8" stroke="#c4c4c4" stroke-width="0.9"/><circle cx="9.4" cy="6.6" r="1.6" fill="#bbb" stroke="#2a2a2a" stroke-width="0.9"/><path d="M 13.2 -11.2 C 13.9 -10.6 16.067 -9.167 17.4 -7.6 C 18.733 -6.033 20.117 -3.767 21.2 -1.8 C 22.283 0.167 22.8 2.2 23.9 4.2 C 25 6.2 26.217 8.767 27.8 10.2 C 29.383 11.633 31.467 12.633 33.4 12.8 C 35.333 12.967 37.733 12.233 39.4 11.2 C 41.067 10.167 42.433 8.233 43.4 6.6 C 44.367 4.967 44.9 2.267 45.2 1.4" stroke="#2a2a2a" stroke-width="3.5"/><path d="M 13.2 -11.2 C 13.9 -10.6 16.067 -9.167 17.4 -7.6 C 18.733 -6.033 20.117 -3.767 21.2 -1.8 C 22.283 0.167 22.8 2.2 23.9 4.2 C 25 6.2 26.217 8.767 27.8 10.2 C 29.383 11.633 31.467 12.633 33.4 12.8 C 35.333 12.967 37.733 12.233 39.4 11.2 C 41.067 10.167 42.433 8.233 43.4 6.6 C 44.367 4.967 44.9 2.267 45.2 1.4" stroke="#c4c4c4" stroke-width="2"/><path d="M 13.2 -11.2 C 13.9 -10.6 16.067 -9.167 17.4 -7.6 C 18.733 -6.033 20.117 -3.767 21.2 -1.8 C 22.283 0.167 22.8 2.2 23.9 4.2 C 25 6.2 26.217 8.767 27.8 10.2 C 29.383 11.633 31.467 12.633 33.4 12.8 C 35.333 12.967 37.733 12.233 39.4 11.2 C 41.067 10.167 42.433 8.233 43.4 6.6 C 44.367 4.967 44.9 2.267 45.2 1.4" stroke="#555" stroke-width="0.5"/><path d="M 1.6 -0.2 C 2.067 -0.6 3.433 -1.567 4.4 -2.6 C 5.367 -3.633 6.367 -5.233 7.4 -6.4 C 8.433 -7.567 9.533 -8.667 10.6 -9.6 C 11.667 -10.533 13.267 -11.6 13.8 -12" stroke="#2a2a2a" stroke-width="4.3"/><path d="M 1.6 -0.2 C 2.067 -0.6 3.433 -1.567 4.4 -2.6 C 5.367 -3.633 6.367 -5.233 7.4 -6.4 C 8.433 -7.567 9.533 -8.667 10.6 -9.6 C 11.667 -10.533 13.267 -11.6 13.8 -12" stroke="#c4c4c4" stroke-width="2.8"/><path d="M 1.6 -0.2 C 2.067 -0.6 3.433 -1.567 4.4 -2.6 C 5.367 -3.633 6.367 -5.233 7.4 -6.4 C 8.433 -7.567 9.533 -8.667 10.6 -9.6 C 11.667 -10.533 13.267 -11.6 13.8 -12" stroke="#555" stroke-width="0.5"/><circle cx="5.4" cy="-3.6" r="0.45" fill="#333" stroke="none"/><circle cx="8.2" cy="-7" r="0.45" fill="#333" stroke="none"/><circle cx="11.2" cy="-10" r="0.45" fill="#333" stroke="none"/><circle cx="14.2" cy="-12.8" r="1.2" fill="#999" stroke="#2a2a2a" stroke-width="0.7"/><circle cx="24.9" cy="-1.9" r="1.2" fill="#999" stroke="#2a2a2a" stroke-width="0.7"/><path d="M0 -2 L2.6 -1.6 L3 1.8 L0 2.4 Z" fill="#2a2a2a" stroke="#2a2a2a" stroke-width="0.5"/><path d="M 31.8 -6 L 53.6 -6" stroke-width="0.9"/><path d="M 31.8 -6 L 32.4 1.5 M 53.6 -6 L 53 1.5 M 33.8 -0.8 L 51.6 -0.8" stroke-width="0.7"/><path d="M 33.3 -5.6 L 38 -1 M 38 -5.6 L 33.3 -1 M 38 -5.6 L 42.7 -1 M 42.7 -5.6 L 38 -1 M 42.7 -5.6 L 47.4 -1 M 47.4 -5.6 L 42.7 -1 M 47.4 -5.6 L 52.1 -1 M 52.1 -5.6 L 47.4 -1" stroke-width="0.85"/><path d="M 36.7 -0.8 C 38.7 3 44.7 3.6 46.2 1.8" stroke-width="0.8"/><circle cx="32.2" cy="-4" r="1" fill="#444" stroke="none"/><path d="M 32.2 -3.5 L 31.654 -2.16 L 31.29 2.1 L 30.9 5.792 L 32.2 9.2 L 33.5 5.792 L 33.11 2.1 L 32.746 -2.16 Z" fill="#6e6e6e" stroke="#222" stroke-width="0.6"/><circle cx="53.2" cy="-4" r="1" fill="#444" stroke="none"/><path d="M 53.2 -3.5 L 52.654 -2.16 L 52.29 2.1 L 51.9 5.792 L 53.2 9.2 L 54.5 5.792 L 54.11 2.1 L 53.746 -2.16 Z" fill="#6e6e6e" stroke="#222" stroke-width="0.6"/><path d="M 36.1 -12.1 L 49.3 -12.1 C 49.3 -9.9 48.1 -9.5 47.9 -6.5 L 37.5 -6.5 C 37.3 -9.5 36.1 -9.9 36.1 -12.1 Z" fill="#fff" stroke-width="0.7"/><path d="M 39.8 -12.3 L 39.8 -32.5 L 45.6 -32.5 L 45.6 -12.3 Z" fill="#fff" stroke-width="0.7"/><path d="M 41.4 -32.7 L 41.4 -37.1 L 44 -37.1 L 44 -32.7 Z" fill="#444" stroke-width="0.5"/><circle cx="42.7" cy="-38.1" r="1.1" stroke-width="0.5"/><path d="M 40.7 -33.3 C 38.6 -35.5 38.9 -40.3 40.8 -43.5 C 42.1 -46.1 43.2 -48.5 43.5 -53.5 C 44.1 -49.1 44 -46.7 44.9 -43.7 C 46.7 -39.9 46.6 -35.5 44.7 -33.3" stroke-width="0.7"/></g>
<path d="M 210.2 632.3 L 210.2 644.8" stroke-width="2.6" stroke="#9b9b9b"/><path d="M 327.6 632.3 L 327.6 644.8" stroke-width="2.6" stroke="#9b9b9b"/><path d="M 210.2 644.8 L 327.6 644.8" stroke-width="2.8" stroke="#9b9b9b"/><path d="M 210.2 644.8 L 254 679.4" stroke-width="0.9"/><path d="M 327.6 644.8 L 283.8 679.4" stroke-width="0.9"/><path d="M 224.7 655.1 L 313.1 655.1" stroke-width="0.8"/><path d="M 225.9 657.5 L 311.9 657.5" stroke-width="0.8"/><path d="M 239.1 667.2 L 298.7 667.2" stroke-width="0.8"/><path d="M 240.3 669.6 L 297.5 669.6" stroke-width="0.8"/><path d="M 254 679.4 L 283.8 679.4" stroke-width="0.8"/><path d="M 255.2 681.8 L 282.6 681.8" stroke-width="0.8"/><path d="M 268.9 645.8 L 268.9 706.8" stroke-width="0.9" stroke="#333"/><circle cx="268.9" cy="646.8" r="1.3" fill="#3a3a3a" stroke="none"/><circle cx="268.9" cy="649.7" r="1.3" fill="#3a3a3a" stroke="none"/><circle cx="268.9" cy="652.6" r="1.3" fill="#3a3a3a" stroke="none"/><circle cx="268.9" cy="655.5" r="1.3" fill="#3a3a3a" stroke="none"/><circle cx="268.9" cy="658.4" r="1.3" fill="#3a3a3a" stroke="none"/><circle cx="268.9" cy="661.3" r="1.3" fill="#3a3a3a" stroke="none"/><circle cx="268.9" cy="664.2" r="1.3" fill="#3a3a3a" stroke="none"/><circle cx="268.9" cy="667.1" r="1.3" fill="#3a3a3a" stroke="none"/><circle cx="268.9" cy="670" r="1.3" fill="#3a3a3a" stroke="none"/><circle cx="268.9" cy="672.9" r="1.3" fill="#3a3a3a" stroke="none"/><circle cx="268.9" cy="675.8" r="1.3" fill="#3a3a3a" stroke="none"/><circle cx="268.9" cy="678.7" r="1.3" fill="#3a3a3a" stroke="none"/><circle cx="268.9" cy="681.6" r="1.3" fill="#3a3a3a" stroke="none"/><circle cx="268.9" cy="684.5" r="1.3" fill="#3a3a3a" stroke="none"/><circle cx="268.9" cy="687.4" r="1.3" fill="#3a3a3a" stroke="none"/><circle cx="268.9" cy="690.3" r="1.3" fill="#3a3a3a" stroke="none"/><circle cx="268.9" cy="693.2" r="1.3" fill="#3a3a3a" stroke="none"/><circle cx="268.9" cy="696.1" r="1.3" fill="#3a3a3a" stroke="none"/><circle cx="268.9" cy="699" r="1.3" fill="#3a3a3a" stroke="none"/><circle cx="268.9" cy="701.9" r="1.3" fill="#3a3a3a" stroke="none"/><circle cx="268.9" cy="704.8" r="1.3" fill="#3a3a3a" stroke="none"/><circle cx="268.9" cy="710.3" r="4.2" fill="#555" stroke="#222"/><circle cx="268.9" cy="710.3" r="2.436" stroke="#bbb" stroke-width="0.6"/><circle cx="268.9" cy="710.3" r="0.924" fill="#999" stroke="none"/><circle cx="209.6" cy="646" r="1" fill="#444" stroke="none"/><path d="M 209.6 646.5 L 208.886 650.56 L 208.41 658.9 L 207.9 666.128 L 209.6 672.8 L 211.3 666.128 L 210.79 658.9 L 210.314 650.56 Z" fill="#6e6e6e" stroke="#222" stroke-width="0.6"/><circle cx="328.2" cy="646" r="1" fill="#444" stroke="none"/><path d="M 328.2 646.5 L 327.486 650.56 L 327.01 658.9 L 326.5 666.128 L 328.2 672.8 L 329.9 666.128 L 329.39 658.9 L 328.914 650.56 Z" fill="#6e6e6e" stroke="#222" stroke-width="0.6"/><circle cx="224.1" cy="657.5" r="1" fill="#444" stroke="none"/><path d="M 224.1 658 L 223.386 662.06 L 222.91 670.4 L 222.4 677.628 L 224.1 684.3 L 225.8 677.628 L 225.29 670.4 L 224.814 662.06 Z" fill="#6e6e6e" stroke="#222" stroke-width="0.6"/><circle cx="313.7" cy="657.5" r="1" fill="#444" stroke="none"/><path d="M 313.7 658 L 312.986 662.06 L 312.51 670.4 L 312 677.628 L 313.7 684.3 L 315.4 677.628 L 314.89 670.4 L 314.414 662.06 Z" fill="#6e6e6e" stroke="#222" stroke-width="0.6"/><circle cx="238.5" cy="669.6" r="1" fill="#444" stroke="none"/><path d="M 238.5 670.1 L 237.786 674.16 L 237.31 682.5 L 236.8 689.728 L 238.5 696.4 L 240.2 689.728 L 239.69 682.5 L 239.214 674.16 Z" fill="#6e6e6e" stroke="#222" stroke-width="0.6"/><circle cx="299.3" cy="669.6" r="1" fill="#444" stroke="none"/><path d="M 299.3 670.1 L 298.586 674.16 L 298.11 682.5 L 297.6 689.728 L 299.3 696.4 L 301 689.728 L 300.49 682.5 L 300.014 674.16 Z" fill="#6e6e6e" stroke="#222" stroke-width="0.6"/><circle cx="253.4" cy="681.8" r="1" fill="#444" stroke="none"/><path d="M 253.4 682.3 L 252.686 686.36 L 252.21 694.7 L 251.7 701.928 L 253.4 708.6 L 255.1 701.928 L 254.59 694.7 L 254.114 686.36 Z" fill="#6e6e6e" stroke="#222" stroke-width="0.6"/><circle cx="284.4" cy="681.8" r="1" fill="#444" stroke="none"/><path d="M 284.4 682.3 L 283.686 686.36 L 283.21 694.7 L 282.7 701.928 L 284.4 708.6 L 286.1 701.928 L 285.59 694.7 L 285.114 686.36 Z" fill="#6e6e6e" stroke="#222" stroke-width="0.6"/>
<circle cx="299.2" cy="637.6" r="5.1" stroke="#555" stroke-width="0.6" stroke-linecap="butt"/><text x="299.2" y="640.9" text-anchor="middle" font-family="'Liberation Sans',sans-serif" font-weight="normal" font-size="9.4" fill="#111" stroke="#111" stroke-width="0.5">22</text>
<circle cx="309.8" cy="692.3" r="5.1" stroke="#555" stroke-width="0.6" stroke-linecap="butt"/><text x="309.8" y="695.6" text-anchor="middle" font-family="'Liberation Sans',sans-serif" font-weight="normal" font-size="9.4" fill="#111" stroke="#111" stroke-width="0.5">23</text>
<circle cx="268.9" cy="723.5" r="5.1" stroke="#555" stroke-width="0.6" stroke-linecap="butt"/><text x="268.9" y="726.8" text-anchor="middle" font-family="'Liberation Sans',sans-serif" font-weight="normal" font-size="9.4" fill="#111" stroke="#111" stroke-width="0.5">24</text>
<path d="M 1050.2 74.4 L 1092.9 74.4" stroke-width="0.6" stroke="#444"/>
<path d="M 1050.2 70 L 1050.2 79" stroke-width="0.6" stroke="#444"/>
<path d="M 1092.9 70 L 1092.9 79" stroke-width="0.6" stroke="#444"/>
<text x="1071.5" y="72.2" text-anchor="middle" font-family="'Liberation Serif',serif" font-size="13" fill="#000" stroke="#000" stroke-width="0.25">150</text>
<path d="M 1092.9 87 L 1110.8 87" stroke-width="0.6" stroke="#444"/>
<path d="M 1092.6 116.6 L 1110.8 116.6" stroke-width="0.6" stroke="#444"/>
<path d="M 1106.7 87 L 1106.7 116.6" stroke-width="0.6" stroke="#444"/>
<text x="1104.2" y="102.2" text-anchor="middle" font-family="'Liberation Serif',serif" font-size="13" fill="#000" stroke="#000" stroke-width="0.25" transform="rotate(-90 1104.2 102.2)">100</text>
<path d="M 905.5 87.1 L 905.5 540.2" stroke-width="0.6" stroke="#444"/>
<path d="M 900.3 87.1 L 912 87.1" stroke-width="0.6" stroke="#444"/>
<path d="M 901.4 210.6 L 905.5 210.6" stroke-width="0.6" stroke="#444"/>
<path d="M 900.5 540.2 L 918.3 540.2" stroke-width="0.6" stroke="#444"/>
<text x="903" y="149" text-anchor="middle" font-family="'Liberation Serif',serif" font-size="12.5" fill="#000" stroke="#000" stroke-width="0.25" transform="rotate(-90 903 149)" textLength="49" lengthAdjust="spacingAndGlyphs">600–1200</text>
<text x="903" y="375.7" text-anchor="middle" font-family="'Liberation Serif',serif" font-size="12.5" fill="#000" stroke="#000" stroke-width="0.25" transform="rotate(-90 903 375.7)" textLength="23.6" lengthAdjust="spacingAndGlyphs">1400</text>
<g transform="translate(779.626 3.13) scale(1.085)"><path d="M249.3 77.3 L288.6 77.3 L287.6 79.4 L250.3 79.4 Z" stroke-width="0.8"/><path d="M250.3 79.4 C254.5 81.5 255.5 85 256.4 88.4 C258 96 262 100.5 266 101.6 L272.4 101.6 C276.4 100.5 280.4 96 282 88.4 C282.9 85 283.9 81.5 287.6 79.4" stroke-width="0.8"/><path d="M 256.6 88.3 L 281.8 88.3" stroke-width="1.7" stroke="#8a8a8a"/><rect x="266.2" y="101.6" width="6.2" height="2.7" fill="#fff" stroke-width="0.8"/><path d="M272.4 102.4 L273.8 102.9 L272.4 103.6" stroke-width="0.6"/></g>
<circle cx="1071.8" cy="84.4" r="6.4"/><circle cx="1071.8" cy="84.4" r="4.3"/>
<rect x="1067.9" y="87.2" width="7.7" height="3.4" fill="#fff" stroke-width="0.7"/>
<path d="M 1069.2 88 L 1069.2 116" stroke-width="0.6"/>
<path d="M 1074 88 L 1074 116" stroke-width="0.6"/>
<rect x="1068.6" y="113.2" width="6.4" height="4.6" fill="#fff" stroke-width="0.7"/>
<path d="M1075.2 113.4 L1077.4 112.2 L1077 114.4 Z" stroke-width="0.6"/>
<circle cx="1071.9" cy="123.9" r="6.4"/><circle cx="1071.9" cy="123.9" r="4.4"/>
<rect x="1070.6" y="128.6" width="2.6" height="15.2" rx="1.3" fill="#fff"/>
<ellipse cx="1071.9" cy="149.9" rx="5.6" ry="9.2"/><ellipse cx="1071.9" cy="149.9" rx="4.1" ry="7.7"/>
<rect x="1070.6" y="157.6" width="2.6" height="14" rx="1.3" fill="#fff"/>
<ellipse cx="1071.9" cy="178.8" rx="5.6" ry="9.2"/><ellipse cx="1071.9" cy="178.8" rx="4.1" ry="7.7"/>
<path d="M1072.4 183 C1075.4 186 1075.6 191 1074.4 195.2 C1073.8 197 1073.2 198 1072.6 198.6" stroke-width="0.7"/>
<path d="M1070.4 184.6 C1068.6 186.4 1068.6 188 1068.8 189" stroke-width="0.7"/>
<rect x="1067.9" y="188.6" width="1.8" height="4" fill="#333" stroke-width="0.5"/>
<path d="M1067.4 197.4 L1070 197.4 L1068.7 195.2 Z" stroke-width="0.4" fill="#222"/>
<g transform="translate(779.626 -111.97) scale(1.085)"><circle cx="269" cy="290.5" r="6"/><circle cx="269" cy="290.5" r="4"/><rect x="266.5" y="293.4" width="5" height="3.8" fill="#fff" stroke-width="0.7"/><rect x="245" y="297.3" width="48.1" height="6.2" fill="#fff" stroke-width="0.8"/><path d="M 245 297.7 L 293.1 297.7" stroke-width="1.3" stroke="#222"/><rect x="258.5" y="299.2" width="21.4" height="6.3" fill="#fff" stroke-width="0.7"/><rect x="259.6" y="305.5" width="3.3" height="11" fill="#fff" stroke-width="0.6"/><rect x="275.7" y="305.5" width="3.3" height="11" fill="#fff" stroke-width="0.6"/><rect x="266" y="306.5" width="6.5" height="11" fill="#fff" stroke-width="0.7"/><g transform="translate(260.6 316.3) rotate(14.5) scale(1)" stroke-width="0.65"><circle cx="0" cy="0.6" r="1" fill="#555" stroke="none"/><path d="M -3.8 14.3 L -3.8 3.5 Q -3.8 0.8 -1.6 0.8 L 1.6 0.8 Q 3.8 0.8 3.8 3.5 L 3.8 14.3 Z" fill="#fff"/><path d="M -3.8 3.4 L 3.8 3.4"/><circle cx="0" cy="18.3" r="5" fill="#fff"/><path d="M -1.3 18.6 L 1.3 18.6" stroke-width="0.5"/></g><g transform="translate(278 316.3) rotate(-14.5) scale(1)" stroke-width="0.65"><circle cx="0" cy="0.6" r="1" fill="#555" stroke="none"/><path d="M -3.8 14.3 L -3.8 3.5 Q -3.8 0.8 -1.6 0.8 L 1.6 0.8 Q 3.8 0.8 3.8 3.5 L 3.8 14.3 Z" fill="#fff"/><path d="M -3.8 3.4 L 3.8 3.4"/><circle cx="0" cy="18.3" r="5" fill="#fff"/><path d="M -1.3 18.6 L 1.3 18.6" stroke-width="0.5"/></g></g>
<g transform="translate(1045.4 214.2) scale(-1.36 1.36)"><path d="M0 -1.2 L3 -1.2 L3 1.2 L0 1.2 M3 -1.2 L4.2 -2.6 L6 -2.6 L7.2 -1.2 L10.8 0 L7.2 1.2 L6 2.6 L4.2 2.6 L3 1.2 M4.2 -2.6 L4.2 2.6 M6 -2.6 L6 2.6" fill="#fff"/></g>
<g transform="translate(1097.2 214.2) scale(1.36 1.36)"><path d="M0 -1.2 L3 -1.2 L3 1.2 L0 1.2 M3 -1.2 L4.2 -2.6 L6 -2.6 L7.2 -1.2 L10.8 0 L7.2 1.2 L6 2.6 L4.2 2.6 L3 1.2 M4.2 -2.6 L4.2 2.6 M6 -2.6 L6 2.6" fill="#fff"/></g>
<circle cx="1031.2" cy="216" r="1" fill="#444" stroke="none"/><path d="M 1031.2 216.5 L 1030.57 220.26 L 1030.15 228.15 L 1029.7 234.988 L 1031.2 241.3 L 1032.7 234.988 L 1032.25 228.15 L 1031.83 220.26 Z" fill="#6e6e6e" stroke="#222" stroke-width="0.6"/>
<circle cx="1111.4" cy="216" r="1" fill="#444" stroke="none"/><path d="M 1111.4 216.5 L 1110.77 220.26 L 1110.35 228.15 L 1109.9 234.988 L 1111.4 241.3 L 1112.9 234.988 L 1112.45 228.15 L 1112.03 220.26 Z" fill="#6e6e6e" stroke="#222" stroke-width="0.6"/>
<rect x="1068.4" y="229.4" width="6.5" height="119.6" fill="#fff" stroke-width="0.7"/>
<rect x="1068.4" y="379.4" width="6.5" height="60.6" fill="#fff" stroke-width="0.7"/>
<path d="M1045.4 217.2 C1043 255 1040 300 1032.4 355.4" stroke-width="0.6"/>
<path d="M1097.1 217.2 C1099.5 255 1103 300 1110.8 355.4" stroke-width="0.6"/>
<path d="M 1031.2 263 L 1111.6 263" stroke-width="0.6" stroke="#444"/>
<path d="M 1031.2 248.2 L 1031.2 264.8" stroke-width="0.6" stroke="#444"/>
<path d="M 1111.6 248.2 L 1111.6 264.8" stroke-width="0.6" stroke="#444"/>
<text x="1071.7" y="260.6" text-anchor="middle" font-family="'Liberation Serif',serif" font-size="13" fill="#000" stroke="#000" stroke-width="0.25">340</text>
<g transform="translate(779.626 -177.49) scale(1.085)"><rect x="265.4" y="485" width="7.8" height="29.2" fill="#fff" stroke-width="0.7"/><path d="M 233.6 491.3 L 304.4 491.3" stroke-width="0.8"/><path d="M 233.6 493.8 L 304.4 493.8" stroke-width="0.8"/><path d="M 233.6 497 L 304.4 497" stroke-width="0.8"/><path d="M 233.4 490.6 L 233.4 497.6" stroke-width="1.3" stroke="#222"/><path d="M 304.6 490.6 L 304.6 497.6" stroke-width="1.3" stroke="#222"/><rect x="255.5" y="496.5" width="27.2" height="6.9" fill="#fff" stroke-width="0.7"/><rect x="265.4" y="485" width="7.8" height="11.5" fill="#fff" stroke-width="0.7"/><rect x="258.7" y="486.4" width="3.6" height="10.6" fill="#fff" stroke-width="0.6"/><rect x="258.7" y="501.6" width="3.6" height="10.6" fill="#fff" stroke-width="0.6"/><rect x="275.9" y="486.4" width="3.6" height="10.6" fill="#fff" stroke-width="0.6"/><rect x="275.9" y="501.6" width="3.6" height="10.6" fill="#fff" stroke-width="0.6"/><g transform="translate(261.2 485.6) rotate(149) scale(1)" stroke-width="0.65"><circle cx="0" cy="0.6" r="1" fill="#555" stroke="none"/><path d="M -3.8 14.3 L -3.8 3.5 Q -3.8 0.8 -1.6 0.8 L 1.6 0.8 Q 3.8 0.8 3.8 3.5 L 3.8 14.3 Z" fill="#fff"/><path d="M -3.8 3.4 L 3.8 3.4"/><circle cx="0" cy="18.3" r="5" fill="#fff"/><path d="M -1.3 18.6 L 1.3 18.6" stroke-width="0.5"/></g><g transform="translate(277.2 485.6) rotate(-149) scale(1)" stroke-width="0.65"><circle cx="0" cy="0.6" r="1" fill="#555" stroke="none"/><path d="M -3.8 14.3 L -3.8 3.5 Q -3.8 0.8 -1.6 0.8 L 1.6 0.8 Q 3.8 0.8 3.8 3.5 L 3.8 14.3 Z" fill="#fff"/><path d="M -3.8 3.4 L 3.8 3.4"/><circle cx="0" cy="18.3" r="5" fill="#fff"/><path d="M -1.3 18.6 L 1.3 18.6" stroke-width="0.5"/></g><g transform="translate(259.6 512.4) rotate(36) scale(1)" stroke-width="0.65"><circle cx="0" cy="0.6" r="1" fill="#555" stroke="none"/><path d="M -3.8 14.3 L -3.8 3.5 Q -3.8 0.8 -1.6 0.8 L 1.6 0.8 Q 3.8 0.8 3.8 3.5 L 3.8 14.3 Z" fill="#fff"/><path d="M -3.8 3.4 L 3.8 3.4"/><circle cx="0" cy="18.3" r="5" fill="#fff"/><path d="M -1.3 18.6 L 1.3 18.6" stroke-width="0.5"/></g><g transform="translate(278.6 512.4) rotate(-37.5) scale(1)" stroke-width="0.65"><circle cx="0" cy="0.6" r="1" fill="#555" stroke="none"/><path d="M -3.8 14.3 L -3.8 3.5 Q -3.8 0.8 -1.6 0.8 L 1.6 0.8 Q 3.8 0.8 3.8 3.5 L 3.8 14.3 Z" fill="#fff"/><path d="M -3.8 3.4 L 3.8 3.4"/><circle cx="0" cy="18.3" r="5" fill="#fff"/><path d="M -1.3 18.6 L 1.3 18.6" stroke-width="0.5"/></g></g>
<g transform="translate(1032.4 358.6) scale(-1.085 1.085)" stroke-width="0.645"><path d="M 2.6 1.2 C 2.967 1.567 4.2 2.567 4.8 3.4 C 5.4 4.233 5.633 5.467 6.2 6.2 C 6.767 6.933 7.867 7.533 8.2 7.8" stroke="#2a2a2a" stroke-width="2.4"/><path d="M 2.6 1.2 C 2.967 1.567 4.2 2.567 4.8 3.4 C 5.4 4.233 5.633 5.467 6.2 6.2 C 6.767 6.933 7.867 7.533 8.2 7.8" stroke="#c4c4c4" stroke-width="0.9"/><circle cx="9.4" cy="6.6" r="1.6" fill="#bbb" stroke="#2a2a2a" stroke-width="0.9"/><path d="M 13.2 -11.2 C 13.9 -10.6 16.067 -9.167 17.4 -7.6 C 18.733 -6.033 20.117 -3.767 21.2 -1.8 C 22.283 0.167 22.8 2.2 23.9 4.2 C 25 6.2 26.217 8.767 27.8 10.2 C 29.383 11.633 31.467 12.633 33.4 12.8 C 35.333 12.967 37.733 12.233 39.4 11.2 C 41.067 10.167 42.433 8.233 43.4 6.6 C 44.367 4.967 44.9 2.267 45.2 1.4" stroke="#2a2a2a" stroke-width="3.5"/><path d="M 13.2 -11.2 C 13.9 -10.6 16.067 -9.167 17.4 -7.6 C 18.733 -6.033 20.117 -3.767 21.2 -1.8 C 22.283 0.167 22.8 2.2 23.9 4.2 C 25 6.2 26.217 8.767 27.8 10.2 C 29.383 11.633 31.467 12.633 33.4 12.8 C 35.333 12.967 37.733 12.233 39.4 11.2 C 41.067 10.167 42.433 8.233 43.4 6.6 C 44.367 4.967 44.9 2.267 45.2 1.4" stroke="#c4c4c4" stroke-width="2"/><path d="M 13.2 -11.2 C 13.9 -10.6 16.067 -9.167 17.4 -7.6 C 18.733 -6.033 20.117 -3.767 21.2 -1.8 C 22.283 0.167 22.8 2.2 23.9 4.2 C 25 6.2 26.217 8.767 27.8 10.2 C 29.383 11.633 31.467 12.633 33.4 12.8 C 35.333 12.967 37.733 12.233 39.4 11.2 C 41.067 10.167 42.433 8.233 43.4 6.6 C 44.367 4.967 44.9 2.267 45.2 1.4" stroke="#555" stroke-width="0.5"/><path d="M 1.6 -0.2 C 2.067 -0.6 3.433 -1.567 4.4 -2.6 C 5.367 -3.633 6.367 -5.233 7.4 -6.4 C 8.433 -7.567 9.533 -8.667 10.6 -9.6 C 11.667 -10.533 13.267 -11.6 13.8 -12" stroke="#2a2a2a" stroke-width="4.3"/><path d="M 1.6 -0.2 C 2.067 -0.6 3.433 -1.567 4.4 -2.6 C 5.367 -3.633 6.367 -5.233 7.4 -6.4 C 8.433 -7.567 9.533 -8.667 10.6 -9.6 C 11.667 -10.533 13.267 -11.6 13.8 -12" stroke="#c4c4c4" stroke-width="2.8"/><path d="M 1.6 -0.2 C 2.067 -0.6 3.433 -1.567 4.4 -2.6 C 5.367 -3.633 6.367 -5.233 7.4 -6.4 C 8.433 -7.567 9.533 -8.667 10.6 -9.6 C 11.667 -10.533 13.267 -11.6 13.8 -12" stroke="#555" stroke-width="0.5"/><circle cx="5.4" cy="-3.6" r="0.45" fill="#333" stroke="none"/><circle cx="8.2" cy="-7" r="0.45" fill="#333" stroke="none"/><circle cx="11.2" cy="-10" r="0.45" fill="#333" stroke="none"/><circle cx="14.2" cy="-12.8" r="1.2" fill="#999" stroke="#2a2a2a" stroke-width="0.7"/><circle cx="24.9" cy="-1.9" r="1.2" fill="#999" stroke="#2a2a2a" stroke-width="0.7"/><path d="M0 -2 L2.6 -1.6 L3 1.8 L0 2.4 Z" fill="#2a2a2a" stroke="#2a2a2a" stroke-width="0.5"/><path d="M 31.8 -6 L 53.6 -6" stroke-width="0.9"/><path d="M 31.8 -6 L 32.4 1.5 M 53.6 -6 L 53 1.5 M 33.8 -0.8 L 51.6 -0.8" stroke-width="0.7"/><path d="M 33.3 -5.6 L 38 -1 M 38 -5.6 L 33.3 -1 M 38 -5.6 L 42.7 -1 M 42.7 -5.6 L 38 -1 M 42.7 -5.6 L 47.4 -1 M 47.4 -5.6 L 42.7 -1 M 47.4 -5.6 L 52.1 -1 M 52.1 -5.6 L 47.4 -1" stroke-width="0.85"/><path d="M 36.7 -0.8 C 38.7 3 44.7 3.6 46.2 1.8" stroke-width="0.8"/><circle cx="32.2" cy="-4" r="1" fill="#444" stroke="none"/><path d="M 32.2 -3.5 L 31.654 -2.16 L 31.29 2.1 L 30.9 5.792 L 32.2 9.2 L 33.5 5.792 L 33.11 2.1 L 32.746 -2.16 Z" fill="#6e6e6e" stroke="#222" stroke-width="0.6"/><circle cx="53.2" cy="-4" r="1" fill="#444" stroke="none"/><path d="M 53.2 -3.5 L 52.654 -2.16 L 52.29 2.1 L 51.9 5.792 L 53.2 9.2 L 54.5 5.792 L 54.11 2.1 L 53.746 -2.16 Z" fill="#6e6e6e" stroke="#222" stroke-width="0.6"/><path d="M 36.1 -12.1 L 49.3 -12.1 C 49.3 -9.9 48.1 -9.5 47.9 -6.5 L 37.5 -6.5 C 37.3 -9.5 36.1 -9.9 36.1 -12.1 Z" fill="#fff" stroke-width="0.7"/><path d="M 39.8 -12.3 L 39.8 -32.5 L 45.6 -32.5 L 45.6 -12.3 Z" fill="#fff" stroke-width="0.7"/><path d="M 41.4 -32.7 L 41.4 -37.1 L 44 -37.1 L 44 -32.7 Z" fill="#444" stroke-width="0.5"/><circle cx="42.7" cy="-38.1" r="1.1" stroke-width="0.5"/><path d="M 40.7 -33.3 C 38.6 -35.5 38.9 -40.3 40.8 -43.5 C 42.1 -46.1 43.2 -48.5 43.5 -53.5 C 44.1 -49.1 44 -46.7 44.9 -43.7 C 46.7 -39.9 46.6 -35.5 44.7 -33.3" stroke-width="0.7"/></g>
<g transform="translate(1110.8 358.6) scale(1.085 1.085)" stroke-width="0.645"><path d="M 2.6 1.2 C 2.967 1.567 4.2 2.567 4.8 3.4 C 5.4 4.233 5.633 5.467 6.2 6.2 C 6.767 6.933 7.867 7.533 8.2 7.8" stroke="#2a2a2a" stroke-width="2.4"/><path d="M 2.6 1.2 C 2.967 1.567 4.2 2.567 4.8 3.4 C 5.4 4.233 5.633 5.467 6.2 6.2 C 6.767 6.933 7.867 7.533 8.2 7.8" stroke="#c4c4c4" stroke-width="0.9"/><circle cx="9.4" cy="6.6" r="1.6" fill="#bbb" stroke="#2a2a2a" stroke-width="0.9"/><path d="M 13.2 -11.2 C 13.9 -10.6 16.067 -9.167 17.4 -7.6 C 18.733 -6.033 20.117 -3.767 21.2 -1.8 C 22.283 0.167 22.8 2.2 23.9 4.2 C 25 6.2 26.217 8.767 27.8 10.2 C 29.383 11.633 31.467 12.633 33.4 12.8 C 35.333 12.967 37.733 12.233 39.4 11.2 C 41.067 10.167 42.433 8.233 43.4 6.6 C 44.367 4.967 44.9 2.267 45.2 1.4" stroke="#2a2a2a" stroke-width="3.5"/><path d="M 13.2 -11.2 C 13.9 -10.6 16.067 -9.167 17.4 -7.6 C 18.733 -6.033 20.117 -3.767 21.2 -1.8 C 22.283 0.167 22.8 2.2 23.9 4.2 C 25 6.2 26.217 8.767 27.8 10.2 C 29.383 11.633 31.467 12.633 33.4 12.8 C 35.333 12.967 37.733 12.233 39.4 11.2 C 41.067 10.167 42.433 8.233 43.4 6.6 C 44.367 4.967 44.9 2.267 45.2 1.4" stroke="#c4c4c4" stroke-width="2"/><path d="M 13.2 -11.2 C 13.9 -10.6 16.067 -9.167 17.4 -7.6 C 18.733 -6.033 20.117 -3.767 21.2 -1.8 C 22.283 0.167 22.8 2.2 23.9 4.2 C 25 6.2 26.217 8.767 27.8 10.2 C 29.383 11.633 31.467 12.633 33.4 12.8 C 35.333 12.967 37.733 12.233 39.4 11.2 C 41.067 10.167 42.433 8.233 43.4 6.6 C 44.367 4.967 44.9 2.267 45.2 1.4" stroke="#555" stroke-width="0.5"/><path d="M 1.6 -0.2 C 2.067 -0.6 3.433 -1.567 4.4 -2.6 C 5.367 -3.633 6.367 -5.233 7.4 -6.4 C 8.433 -7.567 9.533 -8.667 10.6 -9.6 C 11.667 -10.533 13.267 -11.6 13.8 -12" stroke="#2a2a2a" stroke-width="4.3"/><path d="M 1.6 -0.2 C 2.067 -0.6 3.433 -1.567 4.4 -2.6 C 5.367 -3.633 6.367 -5.233 7.4 -6.4 C 8.433 -7.567 9.533 -8.667 10.6 -9.6 C 11.667 -10.533 13.267 -11.6 13.8 -12" stroke="#c4c4c4" stroke-width="2.8"/><path d="M 1.6 -0.2 C 2.067 -0.6 3.433 -1.567 4.4 -2.6 C 5.367 -3.633 6.367 -5.233 7.4 -6.4 C 8.433 -7.567 9.533 -8.667 10.6 -9.6 C 11.667 -10.533 13.267 -11.6 13.8 -12" stroke="#555" stroke-width="0.5"/><circle cx="5.4" cy="-3.6" r="0.45" fill="#333" stroke="none"/><circle cx="8.2" cy="-7" r="0.45" fill="#333" stroke="none"/><circle cx="11.2" cy="-10" r="0.45" fill="#333" stroke="none"/><circle cx="14.2" cy="-12.8" r="1.2" fill="#999" stroke="#2a2a2a" stroke-width="0.7"/><circle cx="24.9" cy="-1.9" r="1.2" fill="#999" stroke="#2a2a2a" stroke-width="0.7"/><path d="M0 -2 L2.6 -1.6 L3 1.8 L0 2.4 Z" fill="#2a2a2a" stroke="#2a2a2a" stroke-width="0.5"/><path d="M 31.8 -6 L 53.6 -6" stroke-width="0.9"/><path d="M 31.8 -6 L 32.4 1.5 M 53.6 -6 L 53 1.5 M 33.8 -0.8 L 51.6 -0.8" stroke-width="0.7"/><path d="M 33.3 -5.6 L 38 -1 M 38 -5.6 L 33.3 -1 M 38 -5.6 L 42.7 -1 M 42.7 -5.6 L 38 -1 M 42.7 -5.6 L 47.4 -1 M 47.4 -5.6 L 42.7 -1 M 47.4 -5.6 L 52.1 -1 M 52.1 -5.6 L 47.4 -1" stroke-width="0.85"/><path d="M 36.7 -0.8 C 38.7 3 44.7 3.6 46.2 1.8" stroke-width="0.8"/><circle cx="32.2" cy="-4" r="1" fill="#444" stroke="none"/><path d="M 32.2 -3.5 L 31.654 -2.16 L 31.29 2.1 L 30.9 5.792 L 32.2 9.2 L 33.5 5.792 L 33.11 2.1 L 32.746 -2.16 Z" fill="#6e6e6e" stroke="#222" stroke-width="0.6"/><circle cx="53.2" cy="-4" r="1" fill="#444" stroke="none"/><path d="M 53.2 -3.5 L 52.654 -2.16 L 52.29 2.1 L 51.9 5.792 L 53.2 9.2 L 54.5 5.792 L 54.11 2.1 L 53.746 -2.16 Z" fill="#6e6e6e" stroke="#222" stroke-width="0.6"/><path d="M 36.1 -12.1 L 49.3 -12.1 C 49.3 -9.9 48.1 -9.5 47.9 -6.5 L 37.5 -6.5 C 37.3 -9.5 36.1 -9.9 36.1 -12.1 Z" fill="#fff" stroke-width="0.7"/><path d="M 39.8 -12.3 L 39.8 -32.5 L 45.6 -32.5 L 45.6 -12.3 Z" fill="#fff" stroke-width="0.7"/><path d="M 41.4 -32.7 L 41.4 -37.1 L 44 -37.1 L 44 -32.7 Z" fill="#444" stroke-width="0.5"/><circle cx="42.7" cy="-38.1" r="1.1" stroke-width="0.5"/><path d="M 40.7 -33.3 C 38.6 -35.5 38.9 -40.3 40.8 -43.5 C 42.1 -46.1 43.2 -48.5 43.5 -53.5 C 44.1 -49.1 44 -46.7 44.9 -43.7 C 46.7 -39.9 46.6 -35.5 44.7 -33.3" stroke-width="0.7"/></g>
<path d="M1032.4 362 C1028 395 1010 422 990.5 446.5" stroke-width="0.6"/>
<path d="M1110.8 362 C1115 395 1133 422 1152.9 446.5" stroke-width="0.6"/>
<path d="M 973.5 396.2 L 1169.7 396.2" stroke-width="0.6" stroke="#444"/>
<path d="M 973.5 374.4 L 973.5 399.9" stroke-width="0.6" stroke="#444"/>
<path d="M 1169.7 374.4 L 1169.7 399.9" stroke-width="0.6" stroke="#444"/>
<text x="1071.7" y="393.7" text-anchor="middle" font-family="'Liberation Sans',sans-serif" font-size="11" fill="#000" stroke="#000" stroke-width="0.25">830</text>
<path d="M 1007.91 451.438 L 1007.91 465" stroke-width="2.821" stroke="#9b9b9b"/><path d="M 1135.289 451.438 L 1135.289 465" stroke-width="2.821" stroke="#9b9b9b"/><path d="M 1007.91 465 L 1135.289 465" stroke-width="3.038" stroke="#9b9b9b"/><path d="M 1007.91 465 L 1055.433 502.541" stroke-width="0.9"/><path d="M 1135.289 465 L 1087.766 502.541" stroke-width="0.9"/><path d="M 1023.643 476.175 L 1119.557 476.175" stroke-width="0.8"/><path d="M 1024.945 478.779 L 1118.255 478.779" stroke-width="0.8"/><path d="M 1039.267 489.304 L 1103.933 489.304" stroke-width="0.8"/><path d="M 1040.569 491.908 L 1102.631 491.908" stroke-width="0.8"/><path d="M 1055.433 502.541 L 1087.766 502.541" stroke-width="0.8"/><path d="M 1056.736 505.145 L 1086.464 505.145" stroke-width="0.8"/><path d="M 1071.6 466.085 L 1071.6 532.27" stroke-width="0.9" stroke="#333"/><circle cx="1071.6" cy="467.085" r="1.3" fill="#3a3a3a" stroke="none"/><circle cx="1071.6" cy="469.985" r="1.3" fill="#3a3a3a" stroke="none"/><circle cx="1071.6" cy="472.885" r="1.3" fill="#3a3a3a" stroke="none"/><circle cx="1071.6" cy="475.785" r="1.3" fill="#3a3a3a" stroke="none"/><circle cx="1071.6" cy="478.685" r="1.3" fill="#3a3a3a" stroke="none"/><circle cx="1071.6" cy="481.585" r="1.3" fill="#3a3a3a" stroke="none"/><circle cx="1071.6" cy="484.485" r="1.3" fill="#3a3a3a" stroke="none"/><circle cx="1071.6" cy="487.385" r="1.3" fill="#3a3a3a" stroke="none"/><circle cx="1071.6" cy="490.285" r="1.3" fill="#3a3a3a" stroke="none"/><circle cx="1071.6" cy="493.185" r="1.3" fill="#3a3a3a" stroke="none"/><circle cx="1071.6" cy="496.085" r="1.3" fill="#3a3a3a" stroke="none"/><circle cx="1071.6" cy="498.985" r="1.3" fill="#3a3a3a" stroke="none"/><circle cx="1071.6" cy="501.885" r="1.3" fill="#3a3a3a" stroke="none"/><circle cx="1071.6" cy="504.785" r="1.3" fill="#3a3a3a" stroke="none"/><circle cx="1071.6" cy="507.685" r="1.3" fill="#3a3a3a" stroke="none"/><circle cx="1071.6" cy="510.585" r="1.3" fill="#3a3a3a" stroke="none"/><circle cx="1071.6" cy="513.485" r="1.3" fill="#3a3a3a" stroke="none"/><circle cx="1071.6" cy="516.385" r="1.3" fill="#3a3a3a" stroke="none"/><circle cx="1071.6" cy="519.285" r="1.3" fill="#3a3a3a" stroke="none"/><circle cx="1071.6" cy="522.185" r="1.3" fill="#3a3a3a" stroke="none"/><circle cx="1071.6" cy="525.085" r="1.3" fill="#3a3a3a" stroke="none"/><circle cx="1071.6" cy="527.985" r="1.3" fill="#3a3a3a" stroke="none"/><circle cx="1071.6" cy="530.885" r="1.3" fill="#3a3a3a" stroke="none"/><circle cx="1071.6" cy="536.067" r="4.557" fill="#555" stroke="#222"/><circle cx="1071.6" cy="536.067" r="2.643" stroke="#bbb" stroke-width="0.6"/><circle cx="1071.6" cy="536.067" r="1.003" fill="#999" stroke="none"/><circle cx="1007.259" cy="466.217" r="1" fill="#444" stroke="none"/><path d="M 1007.259 466.717 L 1006.485 471.25 L 1005.968 480.298 L 1005.415 488.141 L 1007.259 495.38 L 1009.104 488.141 L 1008.551 480.298 L 1008.034 471.25 Z" fill="#6e6e6e" stroke="#222" stroke-width="0.6"/><circle cx="1135.94" cy="466.217" r="1" fill="#444" stroke="none"/><path d="M 1135.94 466.717 L 1135.166 471.25 L 1134.649 480.298 L 1134.096 488.141 L 1135.94 495.38 L 1137.785 488.141 L 1137.232 480.298 L 1136.715 471.25 Z" fill="#6e6e6e" stroke="#222" stroke-width="0.6"/><circle cx="1022.992" cy="478.695" r="1" fill="#444" stroke="none"/><path d="M 1022.992 479.195 L 1022.217 483.727 L 1021.701 492.776 L 1021.147 500.618 L 1022.992 507.858 L 1024.836 500.618 L 1024.283 492.776 L 1023.767 483.727 Z" fill="#6e6e6e" stroke="#222" stroke-width="0.6"/><circle cx="1120.208" cy="478.695" r="1" fill="#444" stroke="none"/><path d="M 1120.208 479.195 L 1119.433 483.727 L 1118.917 492.776 L 1118.363 500.618 L 1120.208 507.858 L 1122.052 500.618 L 1121.499 492.776 L 1120.983 483.727 Z" fill="#6e6e6e" stroke="#222" stroke-width="0.6"/><circle cx="1038.616" cy="491.823" r="1" fill="#444" stroke="none"/><path d="M 1038.616 492.323 L 1037.841 496.856 L 1037.325 505.904 L 1036.772 513.747 L 1038.616 520.986 L 1040.46 513.747 L 1039.907 505.904 L 1039.391 496.856 Z" fill="#6e6e6e" stroke="#222" stroke-width="0.6"/><circle cx="1104.584" cy="491.823" r="1" fill="#444" stroke="none"/><path d="M 1104.584 492.323 L 1103.809 496.856 L 1103.293 505.904 L 1102.739 513.747 L 1104.584 520.986 L 1106.428 513.747 L 1105.875 505.904 L 1105.359 496.856 Z" fill="#6e6e6e" stroke="#222" stroke-width="0.6"/><circle cx="1054.782" cy="505.06" r="1" fill="#444" stroke="none"/><path d="M 1054.782 505.56 L 1054.008 510.093 L 1053.491 519.141 L 1052.938 526.984 L 1054.782 534.223 L 1056.627 526.984 L 1056.074 519.141 L 1055.557 510.093 Z" fill="#6e6e6e" stroke="#222" stroke-width="0.6"/><circle cx="1088.418" cy="505.06" r="1" fill="#444" stroke="none"/><path d="M 1088.418 505.56 L 1087.643 510.093 L 1087.126 519.141 L 1086.573 526.984 L 1088.418 534.223 L 1090.262 526.984 L 1089.709 519.141 L 1089.192 510.093 Z" fill="#6e6e6e" stroke="#222" stroke-width="0.6"/>
<g transform="translate(779.626 -206.859) scale(1.085)"><rect x="265.1" y="596.4" width="7.7" height="11.1" fill="#fff" stroke-width="0.7"/><path d="M 194.4 603.2 L 344.6 603.2" stroke-width="1.5" stroke="#777"/><path d="M 194.4 605.4 L 344.6 605.4" stroke-width="0.7"/><path d="M 194.4 607.5 L 344.6 607.5" stroke-width="0.7"/><path d="M 194.4 609.7 L 252.2 609.7" stroke-width="0.7"/><path d="M 285.7 609.7 L 344.6 609.7" stroke-width="0.7"/><rect x="265.1" y="596.4" width="7.7" height="9" fill="#fff" stroke-width="0.7"/><rect x="254.8" y="605.6" width="8.2" height="2.4" fill="#fff" stroke-width="0.5"/><rect x="276.1" y="605.6" width="7.6" height="2.4" fill="#fff" stroke-width="0.5"/><rect x="252.2" y="608.2" width="33.5" height="8.1" fill="#fff" stroke-width="0.8"/><rect x="239.5" y="610.5" width="12.7" height="3.3" fill="#ddd" stroke-width="0.7"/><rect x="285.7" y="610.5" width="13.2" height="3.3" fill="#ddd" stroke-width="0.7"/><g transform="translate(239.6 612.2) rotate(90) scale(1)" stroke-width="0.65"><circle cx="0" cy="0.6" r="1" fill="#555" stroke="none"/><path d="M -4.5 15.3 L -4.5 3.5 Q -4.5 0.8 -2.3 0.8 L 2.3 0.8 Q 4.5 0.8 4.5 3.5 L 4.5 15.3 Z" fill="#fff"/><path d="M -4.5 3.4 L 4.5 3.4"/><circle cx="0" cy="19" r="4.7" fill="#fff"/><path d="M -1.3 19.3 L 1.3 19.3" stroke-width="0.5"/></g><g transform="translate(298.6 612.2) rotate(-90) scale(1)" stroke-width="0.65"><circle cx="0" cy="0.6" r="1" fill="#555" stroke="none"/><path d="M -4.5 15.3 L -4.5 3.5 Q -4.5 0.8 -2.3 0.8 L 2.3 0.8 Q 4.5 0.8 4.5 3.5 L 4.5 15.3 Z" fill="#fff"/><path d="M -4.5 3.4 L 4.5 3.4"/><circle cx="0" cy="19" r="4.7" fill="#fff"/><path d="M -1.3 19.3 L 1.3 19.3" stroke-width="0.5"/></g><g transform="translate(258.4 616.2) rotate(0) scale(1)" stroke-width="0.65"><circle cx="0" cy="0.6" r="1" fill="#555" stroke="none"/><path d="M -4.4 14 L -4.4 3.5 Q -4.4 0.8 -2.2 0.8 L 2.2 0.8 Q 4.4 0.8 4.4 3.5 L 4.4 14 Z" fill="#fff"/><path d="M -4.4 3.4 L 4.4 3.4"/><circle cx="0" cy="17.9" r="4.9" fill="#fff"/><path d="M -1.3 18.2 L 1.3 18.2" stroke-width="0.5"/></g><g transform="translate(280 616.2) rotate(0) scale(1)" stroke-width="0.65"><circle cx="0" cy="0.6" r="1" fill="#555" stroke="none"/><path d="M -4.4 14 L -4.4 3.5 Q -4.4 0.8 -2.2 0.8 L 2.2 0.8 Q 4.4 0.8 4.4 3.5 L 4.4 14 Z" fill="#fff"/><path d="M -4.4 3.4 L 4.4 3.4"/><circle cx="0" cy="17.9" r="4.9" fill="#fff"/><path d="M -1.3 18.2 L 1.3 18.2" stroke-width="0.5"/></g><path d="M267.8 617.6 L270.4 617.6 L269.1 620.8 Z" stroke-width="0.5" fill="#222"/></g>
<circle cx="990.6" cy="454.2" r="1" fill="#444" stroke="none"/><path d="M 990.6 454.7 L 989.886 459 L 989.41 467.7 L 988.9 475.24 L 990.6 482.2 L 992.3 475.24 L 991.79 467.7 L 991.314 459 Z" fill="#6e6e6e" stroke="#222" stroke-width="0.6"/>
<circle cx="1152.8" cy="454.2" r="1" fill="#444" stroke="none"/><path d="M 1152.8 454.7 L 1152.086 459 L 1151.61 467.7 L 1151.1 475.24 L 1152.8 482.2 L 1154.5 475.24 L 1153.99 467.7 L 1153.514 459 Z" fill="#6e6e6e" stroke="#222" stroke-width="0.6"/>
<g transform="translate(990.5 449.9) scale(-1.085 1.085)" stroke-width="0.645"><path d="M 2.6 1.2 C 2.967 1.567 4.2 2.567 4.8 3.4 C 5.4 4.233 5.633 5.467 6.2 6.2 C 6.767 6.933 7.867 7.533 8.2 7.8" stroke="#2a2a2a" stroke-width="2.4"/><path d="M 2.6 1.2 C 2.967 1.567 4.2 2.567 4.8 3.4 C 5.4 4.233 5.633 5.467 6.2 6.2 C 6.767 6.933 7.867 7.533 8.2 7.8" stroke="#c4c4c4" stroke-width="0.9"/><circle cx="9.4" cy="6.6" r="1.6" fill="#bbb" stroke="#2a2a2a" stroke-width="0.9"/><path d="M 13.2 -11.2 C 13.9 -10.6 16.067 -9.167 17.4 -7.6 C 18.733 -6.033 20.117 -3.767 21.2 -1.8 C 22.283 0.167 22.8 2.2 23.9 4.2 C 25 6.2 26.217 8.767 27.8 10.2 C 29.383 11.633 31.467 12.633 33.4 12.8 C 35.333 12.967 37.733 12.233 39.4 11.2 C 41.067 10.167 42.433 8.233 43.4 6.6 C 44.367 4.967 44.9 2.267 45.2 1.4" stroke="#2a2a2a" stroke-width="3.5"/><path d="M 13.2 -11.2 C 13.9 -10.6 16.067 -9.167 17.4 -7.6 C 18.733 -6.033 20.117 -3.767 21.2 -1.8 C 22.283 0.167 22.8 2.2 23.9 4.2 C 25 6.2 26.217 8.767 27.8 10.2 C 29.383 11.633 31.467 12.633 33.4 12.8 C 35.333 12.967 37.733 12.233 39.4 11.2 C 41.067 10.167 42.433 8.233 43.4 6.6 C 44.367 4.967 44.9 2.267 45.2 1.4" stroke="#c4c4c4" stroke-width="2"/><path d="M 13.2 -11.2 C 13.9 -10.6 16.067 -9.167 17.4 -7.6 C 18.733 -6.033 20.117 -3.767 21.2 -1.8 C 22.283 0.167 22.8 2.2 23.9 4.2 C 25 6.2 26.217 8.767 27.8 10.2 C 29.383 11.633 31.467 12.633 33.4 12.8 C 35.333 12.967 37.733 12.233 39.4 11.2 C 41.067 10.167 42.433 8.233 43.4 6.6 C 44.367 4.967 44.9 2.267 45.2 1.4" stroke="#555" stroke-width="0.5"/><path d="M 1.6 -0.2 C 2.067 -0.6 3.433 -1.567 4.4 -2.6 C 5.367 -3.633 6.367 -5.233 7.4 -6.4 C 8.433 -7.567 9.533 -8.667 10.6 -9.6 C 11.667 -10.533 13.267 -11.6 13.8 -12" stroke="#2a2a2a" stroke-width="4.3"/><path d="M 1.6 -0.2 C 2.067 -0.6 3.433 -1.567 4.4 -2.6 C 5.367 -3.633 6.367 -5.233 7.4 -6.4 C 8.433 -7.567 9.533 -8.667 10.6 -9.6 C 11.667 -10.533 13.267 -11.6 13.8 -12" stroke="#c4c4c4" stroke-width="2.8"/><path d="M 1.6 -0.2 C 2.067 -0.6 3.433 -1.567 4.4 -2.6 C 5.367 -3.633 6.367 -5.233 7.4 -6.4 C 8.433 -7.567 9.533 -8.667 10.6 -9.6 C 11.667 -10.533 13.267 -11.6 13.8 -12" stroke="#555" stroke-width="0.5"/><circle cx="5.4" cy="-3.6" r="0.45" fill="#333" stroke="none"/><circle cx="8.2" cy="-7" r="0.45" fill="#333" stroke="none"/><circle cx="11.2" cy="-10" r="0.45" fill="#333" stroke="none"/><circle cx="14.2" cy="-12.8" r="1.2" fill="#999" stroke="#2a2a2a" stroke-width="0.7"/><circle cx="24.9" cy="-1.9" r="1.2" fill="#999" stroke="#2a2a2a" stroke-width="0.7"/><path d="M0 -2 L2.6 -1.6 L3 1.8 L0 2.4 Z" fill="#2a2a2a" stroke="#2a2a2a" stroke-width="0.5"/><path d="M 31.8 -6 L 53.6 -6" stroke-width="0.9"/><path d="M 31.8 -6 L 32.4 1.5 M 53.6 -6 L 53 1.5 M 33.8 -0.8 L 51.6 -0.8" stroke-width="0.7"/><path d="M 33.3 -5.6 L 38 -1 M 38 -5.6 L 33.3 -1 M 38 -5.6 L 42.7 -1 M 42.7 -5.6 L 38 -1 M 42.7 -5.6 L 47.4 -1 M 47.4 -5.6 L 42.7 -1 M 47.4 -5.6 L 52.1 -1 M 52.1 -5.6 L 47.4 -1" stroke-width="0.85"/><path d="M 36.7 -0.8 C 38.7 3 44.7 3.6 46.2 1.8" stroke-width="0.8"/><circle cx="32.2" cy="-4" r="1" fill="#444" stroke="none"/><path d="M 32.2 -3.5 L 31.654 -2.16 L 31.29 2.1 L 30.9 5.792 L 32.2 9.2 L 33.5 5.792 L 33.11 2.1 L 32.746 -2.16 Z" fill="#6e6e6e" stroke="#222" stroke-width="0.6"/><circle cx="53.2" cy="-4" r="1" fill="#444" stroke="none"/><path d="M 53.2 -3.5 L 52.654 -2.16 L 52.29 2.1 L 51.9 5.792 L 53.2 9.2 L 54.5 5.792 L 54.11 2.1 L 53.746 -2.16 Z" fill="#6e6e6e" stroke="#222" stroke-width="0.6"/><path d="M 36.1 -12.1 L 49.3 -12.1 C 49.3 -9.9 48.1 -9.5 47.9 -6.5 L 37.5 -6.5 C 37.3 -9.5 36.1 -9.9 36.1 -12.1 Z" fill="#fff" stroke-width="0.7"/><path d="M 39.8 -12.3 L 39.8 -32.5 L 45.6 -32.5 L 45.6 -12.3 Z" fill="#fff" stroke-width="0.7"/><path d="M 41.4 -32.7 L 41.4 -37.1 L 44 -37.1 L 44 -32.7 Z" fill="#444" stroke-width="0.5"/><circle cx="42.7" cy="-38.1" r="1.1" stroke-width="0.5"/><path d="M 40.7 -33.3 C 38.6 -35.5 38.9 -40.3 40.8 -43.5 C 42.1 -46.1 43.2 -48.5 43.5 -53.5 C 44.1 -49.1 44 -46.7 44.9 -43.7 C 46.7 -39.9 46.6 -35.5 44.7 -33.3" stroke-width="0.7"/></g>
<g transform="translate(1152.9 449.9) scale(1.085 1.085)" stroke-width="0.645"><path d="M 2.6 1.2 C 2.967 1.567 4.2 2.567 4.8 3.4 C 5.4 4.233 5.633 5.467 6.2 6.2 C 6.767 6.933 7.867 7.533 8.2 7.8" stroke="#2a2a2a" stroke-width="2.4"/><path d="M 2.6 1.2 C 2.967 1.567 4.2 2.567 4.8 3.4 C 5.4 4.233 5.633 5.467 6.2 6.2 C 6.767 6.933 7.867 7.533 8.2 7.8" stroke="#c4c4c4" stroke-width="0.9"/><circle cx="9.4" cy="6.6" r="1.6" fill="#bbb" stroke="#2a2a2a" stroke-width="0.9"/><path d="M 13.2 -11.2 C 13.9 -10.6 16.067 -9.167 17.4 -7.6 C 18.733 -6.033 20.117 -3.767 21.2 -1.8 C 22.283 0.167 22.8 2.2 23.9 4.2 C 25 6.2 26.217 8.767 27.8 10.2 C 29.383 11.633 31.467 12.633 33.4 12.8 C 35.333 12.967 37.733 12.233 39.4 11.2 C 41.067 10.167 42.433 8.233 43.4 6.6 C 44.367 4.967 44.9 2.267 45.2 1.4" stroke="#2a2a2a" stroke-width="3.5"/><path d="M 13.2 -11.2 C 13.9 -10.6 16.067 -9.167 17.4 -7.6 C 18.733 -6.033 20.117 -3.767 21.2 -1.8 C 22.283 0.167 22.8 2.2 23.9 4.2 C 25 6.2 26.217 8.767 27.8 10.2 C 29.383 11.633 31.467 12.633 33.4 12.8 C 35.333 12.967 37.733 12.233 39.4 11.2 C 41.067 10.167 42.433 8.233 43.4 6.6 C 44.367 4.967 44.9 2.267 45.2 1.4" stroke="#c4c4c4" stroke-width="2"/><path d="M 13.2 -11.2 C 13.9 -10.6 16.067 -9.167 17.4 -7.6 C 18.733 -6.033 20.117 -3.767 21.2 -1.8 C 22.283 0.167 22.8 2.2 23.9 4.2 C 25 6.2 26.217 8.767 27.8 10.2 C 29.383 11.633 31.467 12.633 33.4 12.8 C 35.333 12.967 37.733 12.233 39.4 11.2 C 41.067 10.167 42.433 8.233 43.4 6.6 C 44.367 4.967 44.9 2.267 45.2 1.4" stroke="#555" stroke-width="0.5"/><path d="M 1.6 -0.2 C 2.067 -0.6 3.433 -1.567 4.4 -2.6 C 5.367 -3.633 6.367 -5.233 7.4 -6.4 C 8.433 -7.567 9.533 -8.667 10.6 -9.6 C 11.667 -10.533 13.267 -11.6 13.8 -12" stroke="#2a2a2a" stroke-width="4.3"/><path d="M 1.6 -0.2 C 2.067 -0.6 3.433 -1.567 4.4 -2.6 C 5.367 -3.633 6.367 -5.233 7.4 -6.4 C 8.433 -7.567 9.533 -8.667 10.6 -9.6 C 11.667 -10.533 13.267 -11.6 13.8 -12" stroke="#c4c4c4" stroke-width="2.8"/><path d="M 1.6 -0.2 C 2.067 -0.6 3.433 -1.567 4.4 -2.6 C 5.367 -3.633 6.367 -5.233 7.4 -6.4 C 8.433 -7.567 9.533 -8.667 10.6 -9.6 C 11.667 -10.533 13.267 -11.6 13.8 -12" stroke="#555" stroke-width="0.5"/><circle cx="5.4" cy="-3.6" r="0.45" fill="#333" stroke="none"/><circle cx="8.2" cy="-7" r="0.45" fill="#333" stroke="none"/><circle cx="11.2" cy="-10" r="0.45" fill="#333" stroke="none"/><circle cx="14.2" cy="-12.8" r="1.2" fill="#999" stroke="#2a2a2a" stroke-width="0.7"/><circle cx="24.9" cy="-1.9" r="1.2" fill="#999" stroke="#2a2a2a" stroke-width="0.7"/><path d="M0 -2 L2.6 -1.6 L3 1.8 L0 2.4 Z" fill="#2a2a2a" stroke="#2a2a2a" stroke-width="0.5"/><path d="M 31.8 -6 L 53.6 -6" stroke-width="0.9"/><path d="M 31.8 -6 L 32.4 1.5 M 53.6 -6 L 53 1.5 M 33.8 -0.8 L 51.6 -0.8" stroke-width="0.7"/><path d="M 33.3 -5.6 L 38 -1 M 38 -5.6 L 33.3 -1 M 38 -5.6 L 42.7 -1 M 42.7 -5.6 L 38 -1 M 42.7 -5.6 L 47.4 -1 M 47.4 -5.6 L 42.7 -1 M 47.4 -5.6 L 52.1 -1 M 52.1 -5.6 L 47.4 -1" stroke-width="0.85"/><path d="M 36.7 -0.8 C 38.7 3 44.7 3.6 46.2 1.8" stroke-width="0.8"/><circle cx="32.2" cy="-4" r="1" fill="#444" stroke="none"/><path d="M 32.2 -3.5 L 31.654 -2.16 L 31.29 2.1 L 30.9 5.792 L 32.2 9.2 L 33.5 5.792 L 33.11 2.1 L 32.746 -2.16 Z" fill="#6e6e6e" stroke="#222" stroke-width="0.6"/><circle cx="53.2" cy="-4" r="1" fill="#444" stroke="none"/><path d="M 53.2 -3.5 L 52.654 -2.16 L 52.29 2.1 L 51.9 5.792 L 53.2 9.2 L 54.5 5.792 L 54.11 2.1 L 53.746 -2.16 Z" fill="#6e6e6e" stroke="#222" stroke-width="0.6"/><path d="M 36.1 -12.1 L 49.3 -12.1 C 49.3 -9.9 48.1 -9.5 47.9 -6.5 L 37.5 -6.5 C 37.3 -9.5 36.1 -9.9 36.1 -12.1 Z" fill="#fff" stroke-width="0.7"/><path d="M 39.8 -12.3 L 39.8 -32.5 L 45.6 -32.5 L 45.6 -12.3 Z" fill="#fff" stroke-width="0.7"/><path d="M 41.4 -32.7 L 41.4 -37.1 L 44 -37.1 L 44 -32.7 Z" fill="#444" stroke-width="0.5"/><circle cx="42.7" cy="-38.1" r="1.1" stroke-width="0.5"/><path d="M 40.7 -33.3 C 38.6 -35.5 38.9 -40.3 40.8 -43.5 C 42.1 -46.1 43.2 -48.5 43.5 -53.5 C 44.1 -49.1 44 -46.7 44.9 -43.7 C 46.7 -39.9 46.6 -35.5 44.7 -33.3" stroke-width="0.7"/></g>
<path d="M 931.4 557.6 L 1211.8 557.6" stroke-width="0.6" stroke="#444"/>
<path d="M 931.4 536 L 931.4 561.4" stroke-width="0.6" stroke="#444"/>
<path d="M 1211.8 536 L 1211.8 561.4" stroke-width="0.6" stroke="#444"/>
<text x="1071.5" y="555.1" text-anchor="middle" font-family="'Liberation Serif',serif" font-size="13" fill="#000" stroke="#000" stroke-width="0.25" textLength="23" lengthAdjust="spacingAndGlyphs">1200</text>
</svg>
</div></body></html>
